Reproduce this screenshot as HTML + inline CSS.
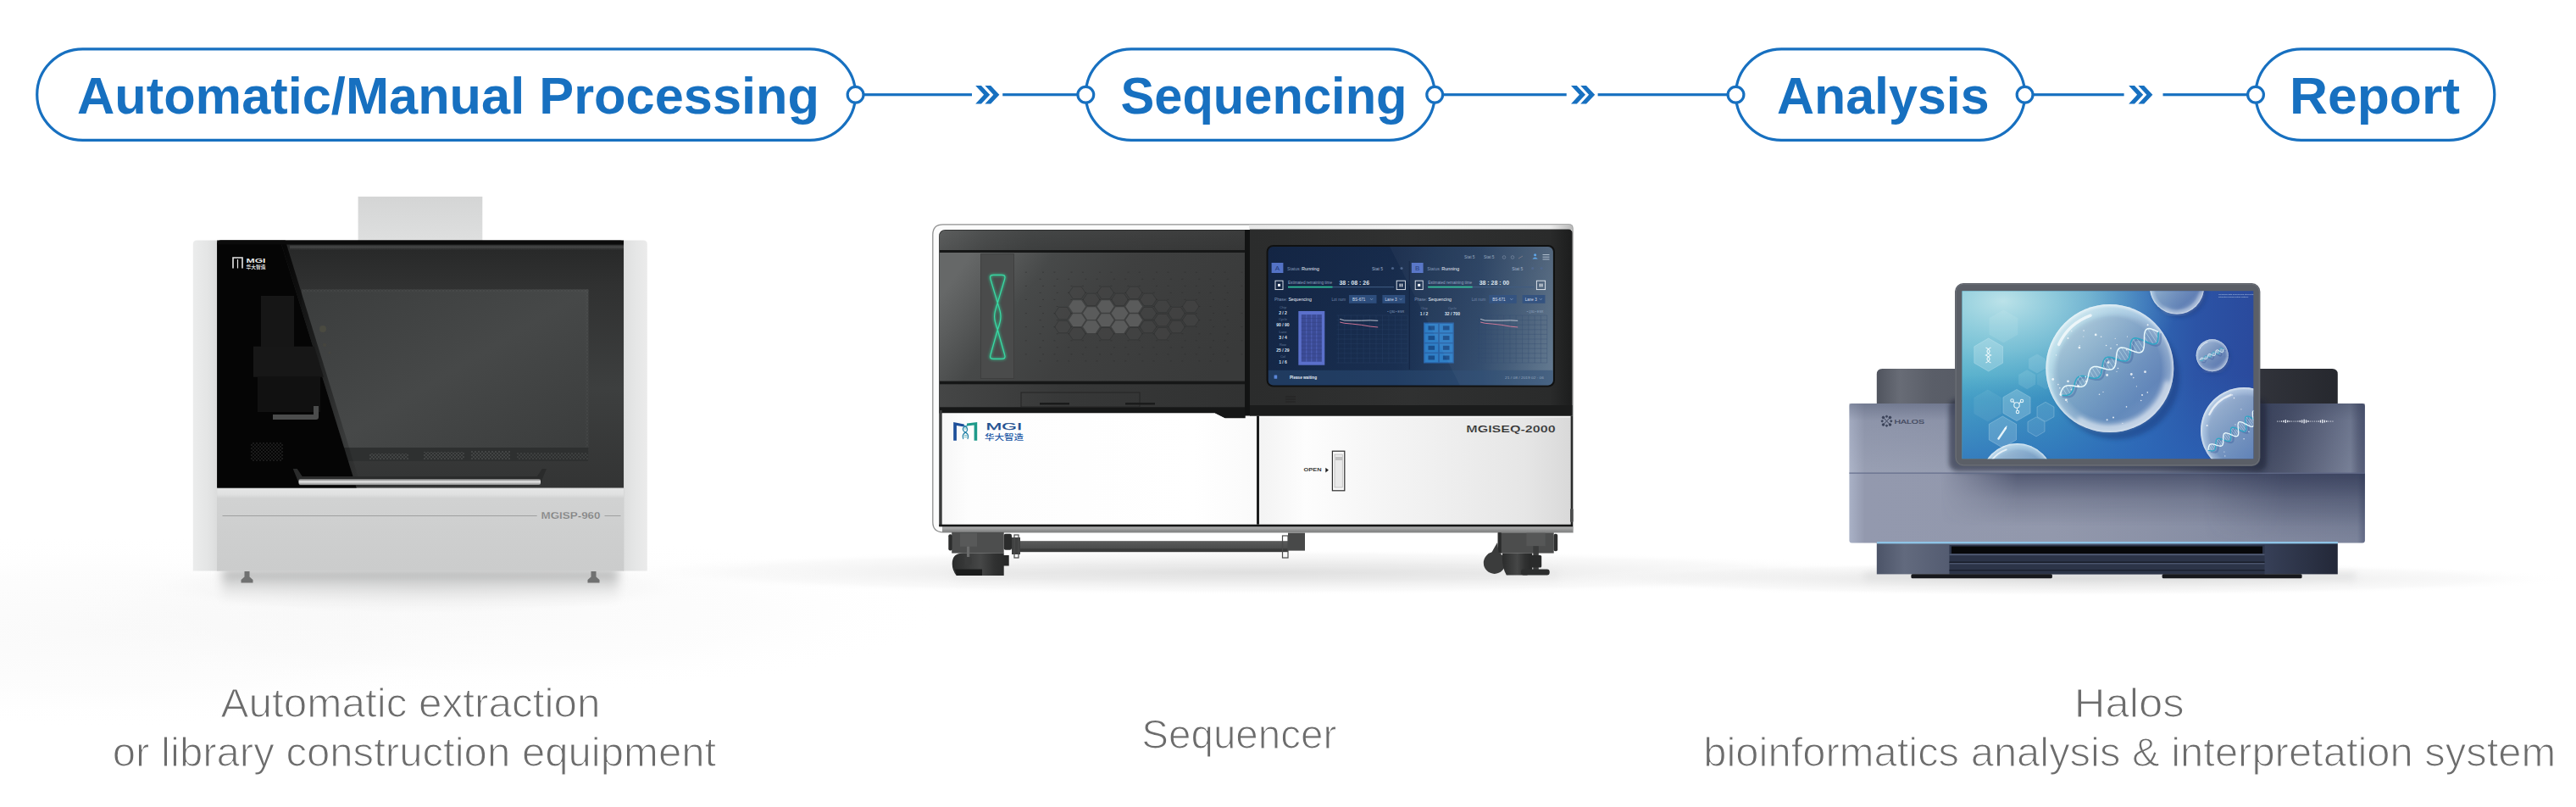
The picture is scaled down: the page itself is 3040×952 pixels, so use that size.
<!DOCTYPE html>
<html lang="en"><head><meta charset="utf-8"><title>Workflow</title>
<style>
html,body{margin:0;padding:0;background:#fff;}
body{width:3040px;height:952px;overflow:hidden;position:relative;font-family:"Liberation Sans","Noto Sans CJK SC",sans-serif;}
svg{position:absolute;left:0;top:0;display:block;}
svg text{font-family:"Liberation Sans","Noto Sans CJK SC",sans-serif;}
</style></head><body>
<svg width="3040" height="952" viewBox="0 0 3040 952">
<g id="floor">
<defs>
<radialGradient id="fl1" cx="0.5" cy="0.5" r="0.5"><stop offset="0" stop-color="#d4d4d4" stop-opacity="0.7"/><stop offset="0.45" stop-color="#dedede" stop-opacity="0.5"/><stop offset="0.8" stop-color="#ececec" stop-opacity="0.3"/><stop offset="1" stop-color="#ffffff" stop-opacity="0"/></radialGradient>
<radialGradient id="fl0" cx="0.5" cy="0.5" r="0.5"><stop offset="0" stop-color="#e6e6e6" stop-opacity="0.7"/><stop offset="0.6" stop-color="#efefef" stop-opacity="0.5"/><stop offset="1" stop-color="#ffffff" stop-opacity="0"/></radialGradient>
</defs>
<ellipse cx="120" cy="745" rx="520" ry="115" fill="url(#fl0)" opacity="0.32"/><ellipse cx="560" cy="725" rx="560" ry="95" fill="url(#fl0)" opacity="0.3"/>
<ellipse cx="496" cy="692" rx="330" ry="34" fill="url(#fl1)" opacity="0.6"/>
<ellipse cx="1480" cy="675" rx="760" ry="27" fill="url(#fl1)"/>
<ellipse cx="2440" cy="683" rx="600" ry="20" fill="url(#fl1)"/>
</g>

<g id="machine1">
<defs>
<linearGradient id="m1glass" x1="0" y1="0" x2="0" y2="1"><stop offset="0" stop-color="#262727"/><stop offset="0.18" stop-color="#303131"/><stop offset="0.6" stop-color="#3d3f3f"/><stop offset="1" stop-color="#333434"/></linearGradient>
<linearGradient id="m1inner" x1="0" y1="0" x2="1" y2="1"><stop offset="0" stop-color="#3b3d3d"/><stop offset="0.5" stop-color="#464848"/><stop offset="1" stop-color="#3a3c3c"/></linearGradient>
<linearGradient id="m1col" x1="0" y1="0" x2="1" y2="0"><stop offset="0" stop-color="#ebecec"/><stop offset="0.6" stop-color="#e4e5e5"/><stop offset="0.94" stop-color="#dcdddd"/><stop offset="1" stop-color="#c6c7c7"/></linearGradient>
<linearGradient id="m1colr" x1="0" y1="0" x2="1" y2="0"><stop offset="0" stop-color="#c9caca"/><stop offset="0.08" stop-color="#dedfdf"/><stop offset="0.5" stop-color="#e5e6e6"/><stop offset="1" stop-color="#ebebeb"/></linearGradient>
<linearGradient id="m1low" x1="0" y1="0" x2="0" y2="1"><stop offset="0" stop-color="#c4c5c5"/><stop offset="0.03" stop-color="#e4e5e5"/><stop offset="0.09" stop-color="#e0e1e1"/><stop offset="0.14" stop-color="#d1d2d2"/><stop offset="0.5" stop-color="#cecfcf"/><stop offset="1" stop-color="#cbcccc"/></linearGradient>
<linearGradient id="m1bar" x1="0" y1="0" x2="0" y2="1"><stop offset="0" stop-color="#6a6b6b"/><stop offset="0.45" stop-color="#e8e8e8"/><stop offset="1" stop-color="#8a8b8b"/></linearGradient>
<linearGradient id="m1sh" x1="0" y1="0" x2="0" y2="1"><stop offset="0" stop-color="#9c9d9d" stop-opacity="0.95"/><stop offset="0.35" stop-color="#c4c5c5" stop-opacity="0.7"/><stop offset="1" stop-color="#e8e8e8" stop-opacity="0"/></linearGradient>
<radialGradient id="m1floor" cx="0.5" cy="0.5" r="0.5"><stop offset="0" stop-color="#d9d9d9" stop-opacity="0.9"/><stop offset="0.6" stop-color="#ececec" stop-opacity="0.6"/><stop offset="1" stop-color="#ffffff" stop-opacity="0"/></radialGradient>
<pattern id="m1dots" width="4" height="4" patternUnits="userSpaceOnUse"><circle cx="1" cy="1" r="0.8" fill="#5a5c5c"/><circle cx="3" cy="3" r="0.8" fill="#5a5c5c"/></pattern>
<linearGradient id="m1edge" x1="0" y1="0" x2="1" y2="0" gradientUnits="objectBoundingBox"><stop offset="0" stop-color="#050505"/><stop offset="1" stop-color="#050505" stop-opacity="0"/></linearGradient>
<clipPath id="m1dark"><path d="M256.2 283.500h76l90 292h-166z"/></clipPath>
<linearGradient id="m1box" x1="0" y1="0" x2="0" y2="1"><stop offset="0" stop-color="#d4d5d5"/><stop offset="1" stop-color="#dedfdf"/></linearGradient>
<linearGradient id="m1hl" x1="0" y1="0" x2="0" y2="1"><stop offset="0" stop-color="#4a4b4b" stop-opacity="0"/><stop offset="0.4" stop-color="#4a4b4b" stop-opacity="0.9"/><stop offset="1" stop-color="#3a3b3b" stop-opacity="0"/></linearGradient>
<filter id="blur6" x="-20%" y="-50%" width="140%" height="200%"><feGaussianBlur stdDeviation="6"/></filter>
</defs>
<!-- floor shadow -->
<rect x="262" y="672" width="468" height="40" fill="url(#m1sh)" filter="url(#blur6)"/>
<!-- top box -->
<rect x="422.6" y="231.9" width="146.7" height="53" fill="url(#m1box)"/>
<!-- side columns -->
<path d="M227.8 288q0-4.5 4.5-4.5h25v390h-29.5z" fill="url(#m1col)"/>
<path d="M735 283.5h24.3q4.5 0 4.5 4.5v385.6h-28.8z" fill="url(#m1colr)"/>
<!-- lower panel -->
<rect x="256.2" y="574" width="479.8" height="99.6" fill="url(#m1low)"/>
<rect x="262.5" y="608" width="371.2" height="1" fill="#9fa0a0"/>
<rect x="713.5" y="608" width="19" height="1" fill="#9fa0a0"/>
<text x="638.5" y="612.3" textLength="70" lengthAdjust="spacingAndGlyphs" font-size="10" font-weight="bold" fill="#7e7f7f" stroke="#cfd0d0" stroke-width="0.25">MGISP-960</text>
<!-- glass -->
<path d="M256.2 288q0-4.5 4.5-4.5h470.8q4.5 0 4.5 4.5v287.4h-479.8z" fill="url(#m1glass)"/>
<rect x="356" y="341.4" width="338.4" height="202.6" fill="url(#m1inner)"/>
<rect x="356" y="341.4" width="338.4" height="3" fill="url(#m1dots)" opacity="0.5"/>
<rect x="691.4" y="341.4" width="3" height="202.6" fill="url(#m1dots)" opacity="0.5"/>
<rect x="356" y="528" width="338.4" height="16" fill="#2e3030"/>
<rect x="436" y="535" width="46" height="7" fill="url(#m1dots)"/>
<rect x="500" y="533" width="48" height="9" fill="url(#m1dots)"/>
<rect x="556" y="532" width="46" height="10" fill="url(#m1dots)"/>
<rect x="610" y="534" width="84" height="8" fill="url(#m1dots)" opacity="0.7"/>
<!-- black reflection left of diagonal -->
<path d="M256.2 288q0-4.5 4.5-4.5h70l90 292h-164.500z" fill="#050505"/><path d="M330.700 283.500h6l90 292h-6z" fill="url(#m1edge)"/>
<rect x="342" y="288.500" width="394" height="7" fill="url(#m1hl)"/><rect x="256.2" y="283.5" width="479.8" height="5" fill="#0b0b0b"/>
<!-- apparatus in the dark -->
<g clip-path="url(#m1dark)">
<rect x="308" y="349" width="39" height="60" fill="#161616"/>
<rect x="299" y="408.7" width="86" height="36" fill="#171717"/>
<rect x="304" y="444" width="74" height="42" fill="#111"/>
<path d="M322 489h48v-10h6v13q0 3-3 3h-51z" fill="#4b4c4c"/>
<rect x="296" y="522" width="38" height="22" fill="url(#m1dots)" opacity="0.55"/>
</g>
<circle cx="381" cy="388" r="4" fill="#4a4a40"/><circle cx="383" cy="407" r="2.2" fill="#45453f"/><circle cx="389" cy="416" r="1.5" fill="#45453f"/>
<!-- logo -->
<g fill="none" stroke="#e6e6e6" stroke-width="1.6"><path d="M275 316.5v-12.5h11v12.5"/><path d="M280.5 306v10.5" stroke-width="1.2"/></g>
<text x="290.5" y="309.5" textLength="23" lengthAdjust="spacingAndGlyphs" font-size="7.5" font-weight="bold" fill="#e9e9e9">MGI</text>
<text x="290.5" y="316.8" textLength="23" lengthAdjust="spacingAndGlyphs" font-size="6" font-weight="bold" fill="#dcdcdc">华大智造</text>
<!-- handle -->
<path d="M345.7 553l8 19.5h283.2l8-19.5h-5l-6 9h-277.2l-6-9z" fill="#2a2b2b"/>
<rect x="352.5" y="565" width="285.5" height="7" rx="2" fill="url(#m1bar)"/>
<!-- feet -->
<path d="M288.500 674h6v6.500l4 3.500v3.500h-14v-3.500l4-3.500z" fill="#707171"/>
<path d="M697.500 674h6v6.500l4 3.500v3.500h-14v-3.500l4-3.500z" fill="#707171"/>
</g>

<g id="machine2">
<defs>
<linearGradient id="m2door" x1="0" y1="0.35" x2="1" y2="0.65"><stop offset="0" stop-color="#666868"/><stop offset="0.1" stop-color="#5a5c5c"/><stop offset="0.25" stop-color="#474949"/><stop offset="0.5" stop-color="#3f4040"/><stop offset="1" stop-color="#393a3a"/></linearGradient>
<linearGradient id="m2strip" x1="0" y1="0" x2="1" y2="0"><stop offset="0" stop-color="#5c5e5e"/><stop offset="0.15" stop-color="#4d4f4f"/><stop offset="0.3" stop-color="#444646"/><stop offset="0.6" stop-color="#404141"/><stop offset="1" stop-color="#3b3c3c"/></linearGradient>
<linearGradient id="m2strip2" x1="0" y1="0" x2="1" y2="0"><stop offset="0" stop-color="#454646"/><stop offset="0.4" stop-color="#373838"/><stop offset="1" stop-color="#313232"/></linearGradient>
<linearGradient id="m2stripv" x1="0" y1="0" x2="0" y2="1"><stop offset="0" stop-color="#000" stop-opacity="0"/><stop offset="1" stop-color="#000" stop-opacity="0.1"/></linearGradient>
<linearGradient id="m2right" x1="0" y1="0" x2="1" y2="0"><stop offset="0" stop-color="#2b2c2c"/><stop offset="0.5" stop-color="#303131"/><stop offset="0.93" stop-color="#2a2b2b"/><stop offset="1" stop-color="#1c1d1d"/></linearGradient>
<linearGradient id="m2scr" x1="0" y1="0" x2="1" y2="0"><stop offset="0" stop-color="#152848"/><stop offset="0.45" stop-color="#1a3052"/><stop offset="0.75" stop-color="#2f4a6c"/><stop offset="1" stop-color="#61788f"/></linearGradient>
<linearGradient id="m2scrv" x1="0" y1="0" x2="0" y2="1"><stop offset="0" stop-color="#0e1c36" stop-opacity="0.25"/><stop offset="1" stop-color="#0e1c36" stop-opacity="0"/></linearGradient>
<linearGradient id="m2wl" x1="0" y1="0" x2="1" y2="0"><stop offset="0" stop-color="#f6f6f6"/><stop offset="0.08" stop-color="#fdfdfd"/><stop offset="0.8" stop-color="#ffffff"/><stop offset="1" stop-color="#fafafa"/></linearGradient>
<linearGradient id="m2wr" x1="0" y1="0" x2="1" y2="0"><stop offset="0" stop-color="#f3f3f3"/><stop offset="0.15" stop-color="#fdfdfd"/><stop offset="0.55" stop-color="#f0f0f0"/><stop offset="0.85" stop-color="#e6e6e6"/><stop offset="1" stop-color="#d9d9d9"/></linearGradient>
<linearGradient id="m2base" x1="0" y1="0" x2="0" y2="1"><stop offset="0" stop-color="#b5b6b6"/><stop offset="1" stop-color="#7d7e7e"/></linearGradient>
<linearGradient id="m2bar" x1="0" y1="0" x2="0" y2="1"><stop offset="0" stop-color="#5a5b5b"/><stop offset="0.7" stop-color="#4b4c4c"/><stop offset="0.72" stop-color="#3a3b3b"/><stop offset="1" stop-color="#3a3b3b"/></linearGradient>
<linearGradient id="m2whl" x1="0" y1="0" x2="1" y2="0"><stop offset="0" stop-color="#2b2c2c"/><stop offset="0.5" stop-color="#464747"/><stop offset="0.75" stop-color="#303131"/><stop offset="1" stop-color="#262727"/></linearGradient>
<linearGradient id="m2top" x1="0" y1="0" x2="1" y2="0"><stop offset="0" stop-color="#e8e8e8"/><stop offset="0.5" stop-color="#f4f4f4"/><stop offset="0.93" stop-color="#ededed"/><stop offset="1" stop-color="#b9b9b9"/></linearGradient>
<linearGradient id="m2fs" x1="0" y1="0" x2="0" y2="1"><stop offset="0" stop-color="#d5d5d5" stop-opacity="0.9"/><stop offset="1" stop-color="#f4f4f4" stop-opacity="0"/></linearGradient>
<filter id="m2glow" x="-60%" y="-20%" width="220%" height="140%"><feGaussianBlur stdDeviation="1.6"/></filter>
<filter id="m2blur" x="-10%" y="-60%" width="120%" height="220%"><feGaussianBlur stdDeviation="5"/></filter>
<clipPath id="m2scrclip"><rect x="1496.6" y="291" width="336.2" height="163.6" rx="6"/></clipPath>
</defs>
<rect x="1125" y="674" width="715" height="18" fill="url(#m2fs)" filter="url(#m2blur)" opacity="0.5"/>
<path d="M1112.8 264.8h738.7q4.5 0 4.5 4.5v358.5h-743.2q-12 0-12-12v-339q0-12 12-12z" fill="#fbfbfb" stroke="#8e8f8f" stroke-width="1.3"/>
<rect x="1112" y="620.9" width="744" height="7" fill="url(#m2base)"/>
<rect x="1474" y="265.500" width="381.500" height="5.500" fill="url(#m2top)"/>
<path d="M1108.2 279q0-8 8-8h353.5v222.500h-24l-12-6h-325.500z" fill="#161717"/>
<path d="M1108.8 279q0-7.5 7.5-7.5h352.7v23.5h-360.2z" fill="url(#m2strip)"/>
<rect x="1108.8" y="271.5" width="360.2" height="23.5" fill="url(#m2stripv)"/>
<rect x="1108.8" y="298" width="360.2" height="151.6" fill="url(#m2door)"/>
<rect x="1108.8" y="453.3" width="360.2" height="27" fill="url(#m2strip2)"/>
<rect x="1205" y="463" width="140" height="17" fill="none" stroke="#242525" stroke-width="1"/>
<rect x="1227" y="475" width="35" height="2.5" fill="#1a1b1b"/><rect x="1328" y="475" width="35" height="2.5" fill="#1a1b1b"/>
<rect x="1157.4" y="299.6" width="39.2" height="147" fill="#4a4b4b" stroke="#3c3d3d" stroke-width="0.8"/>
<path d="M1169 329.5L1177.3 357.4C1179.6 364 1181 369 1181 373.2C1181 377.5 1179.6 383 1177.3 389L1169 418.5C1167.6 422.6 1169.5 423.4 1172.5 423.4L1182 423.4C1185 423.4 1187 422.6 1185.6 418.5L1177.3 389C1175 383 1173.6 377.5 1173.6 373.2C1173.6 369 1175 364 1177.3 357.4L1185.6 329.5C1187 325 1185 324.4 1182 324.4L1172.5 324.4C1169.5 324.4 1167.6 325 1169 329.5Z" fill="none" stroke="#2fe0a0" stroke-width="3" opacity="0.55" filter="url(#m2glow)"/>
<path d="M1169 329.5L1177.3 357.4C1179.6 364 1181 369 1181 373.2C1181 377.5 1179.6 383 1177.3 389L1169 418.5C1167.6 422.6 1169.5 423.4 1172.5 423.4L1182 423.4C1185 423.4 1187 422.6 1185.6 418.5L1177.3 389C1175 383 1173.6 377.5 1173.6 373.2C1173.6 369 1175 364 1177.3 357.4L1185.6 329.5C1187 325 1185 324.4 1182 324.4L1172.5 324.4C1169.5 324.4 1167.6 325 1169 329.5Z" fill="none" stroke="#39dca6" stroke-width="1.2"/>
<polygon points="1244.7,369.6 1249.5,362.4 1259.4,362.4 1264.2,369.6 1259.4,376.8 1249.5,376.8" fill="#454646" fill-opacity="0.5" stroke="#2a2b2b" stroke-opacity="0.55" stroke-width="0.8"/>
<polygon points="1244.7,385.6 1249.5,378.4 1259.4,378.4 1264.2,385.6 1259.4,392.8 1249.5,392.8" fill="#454646" fill-opacity="0.5" stroke="#2a2b2b" stroke-opacity="0.55" stroke-width="0.8"/>
<polygon points="1261.4,345.4 1266.3,338.2 1276.1,338.2 1281.0,345.4 1276.1,352.6 1266.3,352.6" fill="#454646" fill-opacity="0.5" stroke="#2a2b2b" stroke-opacity="0.55" stroke-width="0.8"/>
<polygon points="1261.4,393.7 1266.3,386.5 1276.1,386.5 1281.0,393.7 1276.1,400.9 1266.3,400.9" fill="#454646" fill-opacity="0.5" stroke="#2a2b2b" stroke-opacity="0.55" stroke-width="0.8"/>
<polygon points="1278.2,353.4 1283.0,346.2 1292.9,346.2 1297.8,353.4 1292.9,360.6 1283.0,360.6" fill="#454646" fill-opacity="0.5" stroke="#2a2b2b" stroke-opacity="0.55" stroke-width="0.8"/>
<polygon points="1294.9,345.4 1299.8,338.2 1309.6,338.2 1314.5,345.4 1309.6,352.6 1299.8,352.6" fill="#454646" fill-opacity="0.5" stroke="#2a2b2b" stroke-opacity="0.55" stroke-width="0.8"/>
<polygon points="1294.9,393.7 1299.8,386.5 1309.6,386.5 1314.5,393.7 1309.6,400.9 1299.8,400.9" fill="#454646" fill-opacity="0.5" stroke="#2a2b2b" stroke-opacity="0.55" stroke-width="0.8"/>
<polygon points="1311.7,353.4 1316.5,346.2 1326.4,346.2 1331.2,353.4 1326.4,360.6 1316.5,360.6" fill="#454646" fill-opacity="0.5" stroke="#2a2b2b" stroke-opacity="0.55" stroke-width="0.8"/>
<polygon points="1328.4,345.4 1333.3,338.2 1343.1,338.2 1348.0,345.4 1343.1,352.6 1333.3,352.6" fill="#454646" fill-opacity="0.5" stroke="#2a2b2b" stroke-opacity="0.55" stroke-width="0.8"/>
<polygon points="1328.4,393.7 1333.3,386.5 1343.1,386.5 1348.0,393.7 1343.1,400.9 1333.3,400.9" fill="#454646" fill-opacity="0.5" stroke="#2a2b2b" stroke-opacity="0.55" stroke-width="0.8"/>
<polygon points="1345.2,353.4 1350.0,346.2 1359.9,346.2 1364.8,353.4 1359.9,360.6 1350.0,360.6" fill="#454646" fill-opacity="0.5" stroke="#2a2b2b" stroke-opacity="0.55" stroke-width="0.8"/>
<polygon points="1345.2,369.6 1350.0,362.4 1359.9,362.4 1364.8,369.6 1359.9,376.8 1350.0,376.8" fill="#454646" fill-opacity="0.5" stroke="#2a2b2b" stroke-opacity="0.55" stroke-width="0.8"/>
<polygon points="1345.2,385.6 1350.0,378.4 1359.9,378.4 1364.8,385.6 1359.9,392.8 1350.0,392.8" fill="#454646" fill-opacity="0.5" stroke="#2a2b2b" stroke-opacity="0.55" stroke-width="0.8"/>
<polygon points="1361.9,361.5 1366.8,354.3 1376.6,354.3 1381.5,361.5 1376.6,368.7 1366.8,368.7" fill="#454646" fill-opacity="0.5" stroke="#2a2b2b" stroke-opacity="0.55" stroke-width="0.8"/>
<polygon points="1361.9,377.6 1366.8,370.4 1376.6,370.4 1381.5,377.6 1376.6,384.8 1366.8,384.8" fill="#454646" fill-opacity="0.5" stroke="#2a2b2b" stroke-opacity="0.55" stroke-width="0.8"/>
<polygon points="1361.9,393.7 1366.8,386.5 1376.6,386.5 1381.5,393.7 1376.6,400.9 1366.8,400.9" fill="#454646" fill-opacity="0.5" stroke="#2a2b2b" stroke-opacity="0.55" stroke-width="0.8"/>
<polygon points="1378.7,369.6 1383.5,362.4 1393.4,362.4 1398.2,369.6 1393.4,376.8 1383.5,376.8" fill="#454646" fill-opacity="0.5" stroke="#2a2b2b" stroke-opacity="0.55" stroke-width="0.8"/>
<polygon points="1378.7,385.6 1383.5,378.4 1393.4,378.4 1398.2,385.6 1393.4,392.8 1383.5,392.8" fill="#454646" fill-opacity="0.5" stroke="#2a2b2b" stroke-opacity="0.55" stroke-width="0.8"/>
<polygon points="1395.4,361.5 1400.3,354.3 1410.1,354.3 1415.0,361.5 1410.1,368.7 1400.3,368.7" fill="#454646" fill-opacity="0.5" stroke="#2a2b2b" stroke-opacity="0.55" stroke-width="0.8"/>
<polygon points="1395.4,377.6 1400.3,370.4 1410.1,370.4 1415.0,377.6 1410.1,384.8 1400.3,384.8" fill="#454646" fill-opacity="0.5" stroke="#2a2b2b" stroke-opacity="0.55" stroke-width="0.8"/>
<polygon points="1261.3,361.5 1266.2,354.2 1276.2,354.2 1281.1,361.5 1276.2,368.8 1266.2,368.8" fill="#5a5b5b"/>
<polygon points="1261.3,377.6 1266.2,370.3 1276.2,370.3 1281.1,377.6 1276.2,384.9 1266.2,384.9" fill="#5a5b5b"/>
<polygon points="1278.0,369.6 1283.0,362.2 1292.9,362.2 1297.9,369.6 1292.9,376.9 1283.0,376.9" fill="#5a5b5b"/>
<polygon points="1278.0,385.6 1283.0,378.3 1292.9,378.3 1297.9,385.6 1292.9,392.9 1283.0,392.9" fill="#5a5b5b"/>
<polygon points="1294.8,361.5 1299.8,354.2 1309.7,354.2 1314.6,361.5 1309.7,368.8 1299.8,368.8" fill="#5a5b5b"/>
<polygon points="1294.8,377.6 1299.8,370.3 1309.7,370.3 1314.6,377.6 1309.7,384.9 1299.8,384.9" fill="#5a5b5b"/>
<polygon points="1311.5,369.6 1316.5,362.2 1326.4,362.2 1331.4,369.6 1326.4,376.9 1316.5,376.9" fill="#5a5b5b"/>
<polygon points="1311.5,385.6 1316.5,378.3 1326.4,378.3 1331.4,385.6 1326.4,392.9 1316.5,392.9" fill="#5a5b5b"/>
<polygon points="1328.3,361.5 1333.2,354.2 1343.2,354.2 1348.1,361.5 1343.2,368.8 1333.2,368.8" fill="#5a5b5b"/>
<polygon points="1328.3,377.6 1333.2,370.3 1343.2,370.3 1348.1,377.6 1343.2,384.9 1333.2,384.9" fill="#5a5b5b"/>
<path d="M1209.9 321.2h2M1230.0 321.2h2M1209.9 337.4h2M1230.0 337.4h2M1209.9 353.4h2M1230.0 353.4h2M1209.9 369.6h2M1230.0 369.6h2M1209.9 385.6h2M1230.0 385.6h2M1209.9 401.8h2M1230.0 401.8h2M1209.9 417.9h2M1230.0 417.9h2M1226.6 329.3h2M1246.8 329.3h2M1226.6 345.4h2M1246.8 345.4h2M1226.6 361.5h2M1246.8 361.5h2M1226.6 377.6h2M1246.8 377.6h2M1226.6 393.7h2M1246.8 393.7h2M1226.6 409.8h2M1246.8 409.8h2M1226.6 425.9h2M1246.8 425.9h2M1243.4 321.2h2M1263.5 321.2h2M1243.4 337.4h2M1263.5 337.4h2M1243.4 353.4h2M1263.5 353.4h2M1243.4 369.6h2M1263.5 369.6h2M1243.4 385.6h2M1263.5 385.6h2M1243.4 401.8h2M1263.5 401.8h2M1243.4 417.9h2M1263.5 417.9h2M1260.1 329.3h2M1280.3 329.3h2M1260.1 345.4h2M1280.3 345.4h2M1260.1 393.7h2M1280.3 393.7h2M1260.1 409.8h2M1280.3 409.8h2M1260.1 425.9h2M1280.3 425.9h2M1276.9 321.2h2M1297.0 321.2h2M1276.9 337.4h2M1297.0 337.4h2M1276.9 353.4h2M1297.0 353.4h2M1276.9 401.8h2M1297.0 401.8h2M1276.9 417.9h2M1297.0 417.9h2M1293.6 329.3h2M1313.8 329.3h2M1293.6 345.4h2M1313.8 345.4h2M1293.6 393.7h2M1313.8 393.7h2M1293.6 409.8h2M1313.8 409.8h2M1293.6 425.9h2M1313.8 425.9h2M1310.4 321.2h2M1330.5 321.2h2M1310.4 337.4h2M1330.5 337.4h2M1310.4 353.4h2M1330.5 353.4h2M1310.4 401.8h2M1330.5 401.8h2M1310.4 417.9h2M1330.5 417.9h2M1327.1 329.3h2M1347.3 329.3h2M1327.1 345.4h2M1347.3 345.4h2M1327.1 393.7h2M1347.3 393.7h2M1327.1 409.8h2M1347.3 409.8h2M1327.1 425.9h2M1347.3 425.9h2M1343.9 321.2h2M1364.0 321.2h2M1343.9 337.4h2M1364.0 337.4h2M1343.9 353.4h2M1364.0 353.4h2M1343.9 369.6h2M1364.0 369.6h2M1343.9 385.6h2M1364.0 385.6h2M1343.9 401.8h2M1364.0 401.8h2M1343.9 417.9h2M1364.0 417.9h2M1360.6 329.3h2M1380.8 329.3h2M1360.6 345.4h2M1380.8 345.4h2M1360.6 361.5h2M1380.8 361.5h2M1360.6 377.6h2M1380.8 377.6h2M1360.6 393.7h2M1380.8 393.7h2M1360.6 409.8h2M1380.8 409.8h2M1360.6 425.9h2M1380.8 425.9h2M1377.4 321.2h2M1397.5 321.2h2M1377.4 337.4h2M1397.5 337.4h2M1377.4 353.4h2M1397.5 353.4h2M1377.4 369.6h2M1397.5 369.6h2M1377.4 385.6h2M1397.5 385.6h2M1377.4 401.8h2M1397.5 401.8h2M1377.4 417.9h2M1397.5 417.9h2M1394.1 329.3h2M1414.3 329.3h2M1394.1 345.4h2M1414.3 345.4h2M1394.1 361.5h2M1414.3 361.5h2M1394.1 377.6h2M1414.3 377.6h2M1394.1 393.7h2M1414.3 393.7h2M1394.1 409.8h2M1414.3 409.8h2M1394.1 425.9h2M1414.3 425.9h2M1410.9 321.2h2M1431.0 321.2h2M1410.9 337.4h2M1431.0 337.4h2M1410.9 353.4h2M1431.0 353.4h2M1410.9 369.6h2M1431.0 369.6h2M1410.9 385.6h2M1431.0 385.6h2M1410.9 401.8h2M1431.0 401.8h2M1410.9 417.9h2M1431.0 417.9h2M1427.6 329.3h2M1447.8 329.3h2M1427.6 345.4h2M1447.8 345.4h2M1427.6 361.5h2M1447.8 361.5h2M1427.6 377.6h2M1447.8 377.6h2M1427.6 393.7h2M1447.8 393.7h2M1427.6 409.8h2M1447.8 409.8h2M1427.6 425.9h2M1447.8 425.9h2M1444.4 321.2h2M1464.5 321.2h2M1444.4 337.4h2M1464.5 337.4h2M1444.4 353.4h2M1464.5 353.4h2M1444.4 369.6h2M1464.5 369.6h2M1444.4 385.6h2M1464.5 385.6h2M1444.4 401.8h2M1464.5 401.8h2M1444.4 417.9h2M1464.5 417.9h2" stroke="#2c2d2d" stroke-width="0.9" opacity="0.6" fill="none"/>
<rect x="1469" y="271" width="6.5" height="219.5" fill="#121313"/>
<path d="M1475 270.5h376q4.5 0 4.5 4.5v215.5h-380.5z" fill="url(#m2right)"/>
<rect x="1475" y="478" width="380.5" height="12.5" fill="#1b1c1c"/>
<path d="M1517 468h12M1517 471h12M1517 474h12" stroke="#222323" stroke-width="1"/>
<rect x="1494.6" y="289" width="340.4" height="167.6" rx="8" fill="#101111"/>
<rect x="1496.6" y="291" width="336.2" height="163.6" rx="6" fill="url(#m2scr)"/>
<g clip-path="url(#m2scrclip)">
<rect x="1496.6" y="291" width="336.2" height="163.6" fill="url(#m2scrv)"/>
<rect x="1496.6" y="436.8" width="336.2" height="18" fill="#2a4a72" opacity="0.55"/>
<rect x="1662.8" y="308" width="1" height="128" fill="#0e1d38" opacity="0.6"/>
<rect x="1500.6" y="310" width="13.8" height="12" fill="#5473c6"/><text x="1507.5" y="319.3" text-anchor="middle" font-size="8" fill="#223a78">A</text><text x="1519" y="318.6" font-size="5.2" fill="#7f93b4">Status:</text><text x="1536" y="318.6" font-size="5.6" fill="#e6ecf5">Running</text><text x="1619" y="318.6" font-size="5" fill="#9fb0c8">Stat 5</text><circle cx="1643.5" cy="316.5" r="1.6" fill="#4a6288"/><circle cx="1654" cy="316.5" r="1.6" fill="#4a6288"/><rect x="1505" y="331.2" width="9" height="10.4" fill="none" stroke="#e8edf4" stroke-width="0.9"/><rect x="1508" y="334.9" width="3" height="3" fill="#fff"/><text x="1520" y="335" textLength="52" lengthAdjust="spacingAndGlyphs" font-size="4.6" fill="#8ea3c0">Estimated remaining time</text><text x="1580.5" y="336.4" textLength="35.5" lengthAdjust="spacingAndGlyphs" font-size="7.6" font-weight="bold" fill="#dfe6f0">38 : 08 : 26</text><rect x="1520" y="338" width="125" height="1.2" fill="#3a557c"/><rect x="1520" y="337.8" width="52.5" height="1.6" fill="#2ec79b"/><rect x="1648.2" y="331.2" width="10.2" height="10.4" fill="none" stroke="#e8edf4" stroke-width="0.9"/><rect x="1651.6" y="334.6" width="1.2" height="3.8" fill="#fff"/><rect x="1654" y="334.6" width="1.2" height="3.8" fill="#fff"/><text x="1504" y="354.8" font-size="4.8" fill="#7f93b4">Phase:</text><text x="1520.4" y="354.8" font-size="5.2" fill="#e6ecf5">Sequencing</text><text x="1571.5" y="354.8" font-size="4.6" fill="#6f84a6">Lot num</text><rect x="1592" y="348" width="32.5" height="9.8" fill="#2d4d7c"/><text x="1596" y="354.8" font-size="4.6" fill="#d4deec">BS-671</text><path d="M1617 352l1.6 1.8l1.6-1.8" stroke="#8fa6c8" stroke-width="0.6" fill="none"/><rect x="1631.4" y="348" width="26.8" height="9.8" fill="#2d4d7c"/><text x="1634.5" y="354.8" font-size="4.6" fill="#d4deec">Lane 3</text><path d="M1651.5 352l1.6 1.8l1.6-1.8" stroke="#8fa6c8" stroke-width="0.6" fill="none"/><path d="M1577.3 372.0H1661.3M1577.3 377.6H1661.3M1577.3 383.2H1661.3M1577.3 388.8H1661.3M1577.3 394.4H1661.3M1577.3 400.0H1661.3M1577.3 405.6H1661.3M1577.3 411.2H1661.3M1577.3 416.8H1661.3M1577.3 422.4H1661.3M1577.3 428.0H1661.3M1579.3 372V428M1586.8 372V428M1594.2 372V428M1601.7 372V428M1609.1 372V428M1616.6 372V428M1624.0 372V428M1631.5 372V428M1638.9 372V428M1646.4 372V428M1653.8 372V428M1661.3 372V428" stroke="#2b446a" stroke-width="0.4" fill="none" opacity="0.8"/><path d="M1581.2 376.4l5.4 1.6l9.0 0.2l10.8 0l10.8 -0.3l9.0 0.4" stroke="#dfe3ea" stroke-width="0.8" fill="none"/><path d="M1581.2 380l5.4 1.3l9.0 0.8l10.8 1.2l10.8 1.8l9.0 0.9" stroke="#e07a9a" stroke-width="0.9" fill="none"/><text x="1637.3" y="368.6" font-size="3.6" fill="#8ea3c0">• Q30  • ESR</text>
<rect x="1665.8" y="310" width="13.8" height="12" fill="#5473c6"/><text x="1672.7" y="319.3" text-anchor="middle" font-size="8" fill="#223a78">B</text><text x="1684.2" y="318.6" font-size="5.2" fill="#7f93b4">Status:</text><text x="1701.2" y="318.6" font-size="5.6" fill="#e6ecf5">Running</text><text x="1784.2" y="318.6" font-size="5" fill="#9fb0c8">Stat 5</text><circle cx="1808.7" cy="316.5" r="1.6" fill="#4a6288"/><circle cx="1819.2" cy="316.5" r="1.6" fill="#4a6288"/><rect x="1670.2" y="331.2" width="9" height="10.4" fill="none" stroke="#e8edf4" stroke-width="0.9"/><rect x="1673.2" y="334.9" width="3" height="3" fill="#fff"/><text x="1685.2" y="335" textLength="52" lengthAdjust="spacingAndGlyphs" font-size="4.6" fill="#8ea3c0">Estimated remaining time</text><text x="1745.7" y="336.4" textLength="35.5" lengthAdjust="spacingAndGlyphs" font-size="7.6" font-weight="bold" fill="#dfe6f0">38 : 28 : 00</text><rect x="1685.2" y="338" width="125" height="1.2" fill="#3a557c"/><rect x="1685.2" y="337.8" width="52.5" height="1.6" fill="#2ec79b"/><rect x="1813.4" y="331.2" width="10.2" height="10.4" fill="none" stroke="#e8edf4" stroke-width="0.9"/><rect x="1816.8" y="334.6" width="1.2" height="3.8" fill="#fff"/><rect x="1819.2" y="334.6" width="1.2" height="3.8" fill="#fff"/><text x="1669.2" y="354.8" font-size="4.8" fill="#7f93b4">Phase:</text><text x="1685.6000000000001" y="354.8" font-size="5.2" fill="#e6ecf5">Sequencing</text><text x="1736.7" y="354.8" font-size="4.6" fill="#6f84a6">Lot num</text><rect x="1757.2" y="348" width="32.5" height="9.8" fill="#2d4d7c"/><text x="1761.2" y="354.8" font-size="4.6" fill="#d4deec">BS-671</text><path d="M1782.2 352l1.6 1.8l1.6-1.8" stroke="#8fa6c8" stroke-width="0.6" fill="none"/><rect x="1796.6000000000001" y="348" width="26.8" height="9.8" fill="#2d4d7c"/><text x="1799.7" y="354.8" font-size="4.6" fill="#d4deec">Lane 3</text><path d="M1816.7 352l1.6 1.8l1.6-1.8" stroke="#8fa6c8" stroke-width="0.6" fill="none"/><path d="M1743.4 372.0H1825.7M1743.4 377.6H1825.7M1743.4 383.2H1825.7M1743.4 388.8H1825.7M1743.4 394.4H1825.7M1743.4 400.0H1825.7M1743.4 405.6H1825.7M1743.4 411.2H1825.7M1743.4 416.8H1825.7M1743.4 422.4H1825.7M1743.4 428.0H1825.7M1745.4 372V428M1752.7 372V428M1760.0 372V428M1767.3 372V428M1774.6 372V428M1781.9 372V428M1789.2 372V428M1796.5 372V428M1803.8 372V428M1811.1 372V428M1818.4 372V428M1825.7 372V428" stroke="#2b446a" stroke-width="0.4" fill="none" opacity="0.8"/><path d="M1747.1 376.4l5.3 1.6l8.8 0.2l10.6 0l10.6 -0.3l8.8 0.4" stroke="#dfe3ea" stroke-width="0.8" fill="none"/><path d="M1747.1 380l5.3 1.3l8.8 0.8l10.6 1.2l10.6 1.8l8.8 0.9" stroke="#e07a9a" stroke-width="0.9" fill="none"/><text x="1801.7" y="368.6" font-size="3.6" fill="#8ea3c0">• Q30  • ESR</text>
<text x="1514" y="363.8" text-anchor="middle" font-size="4" fill="#5f7496">Chip</text><text x="1514" y="370.8" text-anchor="middle" font-size="5" font-weight="bold" fill="#d9e1ee">2 / 2</text>
<text x="1514" y="378.4" text-anchor="middle" font-size="4" fill="#5f7496">Cycle</text><text x="1514" y="385.4" text-anchor="middle" font-size="5" font-weight="bold" fill="#d9e1ee">90 / 90</text>
<text x="1514" y="393.0" text-anchor="middle" font-size="4" fill="#5f7496">Lane</text><text x="1514" y="400.0" text-anchor="middle" font-size="5" font-weight="bold" fill="#d9e1ee">3 / 4</text>
<text x="1514" y="407.6" text-anchor="middle" font-size="4" fill="#5f7496">Row</text><text x="1514" y="414.6" text-anchor="middle" font-size="5" font-weight="bold" fill="#d9e1ee">25 / 29</text>
<text x="1514" y="422.2" text-anchor="middle" font-size="4" fill="#5f7496">Col</text><text x="1514" y="429.2" text-anchor="middle" font-size="5" font-weight="bold" fill="#d9e1ee">1 / 6</text>
<rect x="1532.3" y="367" width="31" height="63.7" fill="#5b70cb"/><rect x="1535.8" y="371" width="24" height="55.7" fill="#3c4c97"/>
<path d="M1541.8 371v55.7M1547.8 371v55.7M1553.8 371v55.7" stroke="#5b70cb" stroke-width="0.8" opacity="0.8"/>
<path d="M1535.8 375.6h24M1535.8 380.3h24M1535.8 384.9h24M1535.8 389.6h24M1535.8 394.2h24M1535.8 398.8h24M1535.8 403.5h24M1535.8 408.1h24M1535.8 412.8h24M1535.8 417.4h24M1535.8 422.0h24" stroke="#33417f" stroke-width="0.5"/>
<text x="1680.5" y="364.5" text-anchor="middle" font-size="4" fill="#5f7496">Chip</text><text x="1680.5" y="372" text-anchor="middle" font-size="5" font-weight="bold" fill="#d9e1ee">1 / 2</text>
<text x="1714" y="364.5" text-anchor="middle" font-size="4" fill="#5f7496">Cycle</text><text x="1714" y="372" text-anchor="middle" font-size="5" font-weight="bold" fill="#d9e1ee">32 / 700</text>
<rect x="1680" y="380.5" width="35.8" height="48" fill="#2a64a8"/>
<rect x="1681.5" y="382.0" width="15.6" height="10.2" fill="#2f7fc6"/><rect x="1685.5" y="384.4" width="7.6" height="5" fill="#1b4f8c"/>
<rect x="1698.9" y="382.0" width="15.6" height="10.2" fill="#2f7fc6"/><rect x="1702.9" y="384.4" width="7.6" height="5" fill="#1b4f8c"/>
<rect x="1681.5" y="393.7" width="15.6" height="10.2" fill="#2f7fc6"/><rect x="1685.5" y="396.1" width="7.6" height="5" fill="#1b4f8c"/>
<rect x="1698.9" y="393.7" width="15.6" height="10.2" fill="#2f7fc6"/><rect x="1702.9" y="396.1" width="7.6" height="5" fill="#1b4f8c"/>
<rect x="1681.5" y="405.4" width="15.6" height="10.2" fill="#2f7fc6"/><rect x="1685.5" y="407.8" width="7.6" height="5" fill="#1b4f8c"/>
<rect x="1698.9" y="405.4" width="15.6" height="10.2" fill="#2f7fc6"/><rect x="1702.9" y="407.8" width="7.6" height="5" fill="#1b4f8c"/>
<rect x="1681.5" y="417.1" width="15.6" height="10.2" fill="#2f7fc6"/><rect x="1685.5" y="419.5" width="7.6" height="5" fill="#1b4f8c"/>
<rect x="1698.9" y="417.1" width="15.6" height="10.2" fill="#2f7fc6"/><rect x="1702.9" y="419.5" width="7.6" height="5" fill="#1b4f8c"/>
<text x="1728" y="305.2" font-size="4.8" fill="#93a4bc">Stat 5</text><text x="1751" y="305.2" font-size="4.8" fill="#93a4bc">Stat 5</text>
<circle cx="1775" cy="303.5" r="1.8" fill="none" stroke="#7f90a8" stroke-width="0.6"/><circle cx="1785" cy="303.5" r="1.8" fill="none" stroke="#7f90a8" stroke-width="0.6"/><path d="M1792 305l5-3" stroke="#8a7f8a" stroke-width="0.7"/>
<circle cx="1811.6" cy="300.8" r="1.5" fill="#5aa4ea"/><path d="M1808.4 305.6q3.2-4 6.4 0z" fill="#5aa4ea"/>
<path d="M1820.5 300.5h8M1820.5 303.2h8M1820.5 305.9h8" stroke="#b9c6d6" stroke-width="0.9"/>
<rect x="1503.6" y="442.4" width="3.6" height="4.4" rx="0.6" fill="#5a86d8"/>
<text x="1522" y="447" textLength="32" lengthAdjust="spacingAndGlyphs" font-size="5" font-weight="bold" fill="#e2e9f3">Please waiting</text>
<text x="1776" y="447" textLength="46" lengthAdjust="spacingAndGlyphs" font-size="4.4" fill="#8fa2ba">21 / 08 / 2019   02 : 06</text>
<path d="M1640 291h193v164h-110z" fill="#ffffff" opacity="0.035"/>
</g>
<path d="M1111.7 487.500h322l12 6h37.300v125.200h-371.300z" fill="url(#m2wl)"/>
<rect x="1483" y="490.5" width="3" height="128.2" fill="#1d1e1e"/>
<rect x="1486" y="492.3" width="367.6" height="126.4" fill="url(#m2wr)"/>
<rect x="1853.6" y="490.5" width="2.4" height="130.4" fill="#2a2b2b"/>
<rect x="1108.2" y="484" width="3.5" height="136.9" fill="#3a3b3b"/>
<rect x="1108.2" y="618.7" width="747.8" height="2.6" fill="#141515"/>
<path d="M1125.2 519.700V498L1137.800 500.400V503.600L1128.900 501.900V519.700Z" fill="#1d4f9a"/>
<path d="M1153.200 519.700V498L1141 499.400V502.600L1149.600 501.600V519.700Z" fill="#1f9a8a"/>
<path d="M1137.200 501.800c5.500 2.200 5.500 6.200 2.200 8.200c-3.300 2-3.800 5-2.400 8M1141.800 501.800c-7.500 2.200-6.500 6.200-2.400 8.200c3.300 2 3.800 5 2.400 8" stroke="#1f7fa6" stroke-width="1.100" fill="none"/>
<path d="M1137.400 504h4.200M1137 506h5M1137.800 513.500h3.400M1137.400 515.500h4.200" stroke="#1f8f9a" stroke-width="0.600"/>
<text x="1163.600" y="507.300" textLength="42.600" lengthAdjust="spacingAndGlyphs" font-size="10.300" fill="#1d4f8f" stroke="#1d4f8f" stroke-width="0.250">MGI</text>
<text x="1162" y="518.600" textLength="46" lengthAdjust="spacingAndGlyphs" font-size="9.200" font-weight="500" fill="#2258a6">华大智造</text>
<text x="1730.3" y="510.4" textLength="105.3" lengthAdjust="spacingAndGlyphs" font-size="11.800" font-weight="bold" fill="#2c2c2c" stroke="#ececec" stroke-width="0.200">MGISEQ-2000</text>
<rect x="1572.4" y="532.2" width="14.4" height="46.6" fill="#f7f7f7" stroke="#2e2e2e" stroke-width="1.2"/>
<rect x="1575" y="536" width="9.2" height="39" fill="#e9e9e9" stroke="#9a9a9a" stroke-width="0.5"/>
<path d="M1577 539v4M1579 539v4M1581 539v4M1583 539v4" stroke="#6a6a6a" stroke-width="0.6"/>
<text x="1538.5" y="556.3" textLength="21" lengthAdjust="spacingAndGlyphs" font-size="4.6" font-weight="bold" fill="#3a3a3a">OPEN</text>
<path d="M1564.3 551.8l3.600 2.800l-3.600 2.800z" fill="#1c1c1c"/>
<rect x="1853" y="600" width="3.6" height="16" rx="1.2" fill="#4a4b4b"/>
<rect x="1123.2" y="627.8" width="61.5" height="24.8" fill="#4d4e4e"/><rect x="1119.3" y="630.3" width="4.5" height="19.3" rx="2" fill="#2c2d2d"/><rect x="1184.7" y="629.8" width="9.3" height="19" rx="2" fill="#2b2c2c"/><rect x="1133" y="628.8" width="20" height="16" fill="#585959"/><path d="M1123.7 665q0-12.400 13-12.400h48v2.400h6v12.500h-6v11.400h-56q-5-6-5-13.900z" fill="url(#m2whl)"/><rect x="1141" y="644.7" width="3.2" height="21" fill="#6a6b6b"/><rect x="1138.5" y="657" width="8" height="9" rx="1" fill="#3a3b3b"/><path d="M1127 671.500h32v7.400h-30z" fill="#1b1c1c"/>
<rect x="1767.7" y="628.3" width="66" height="24.300" fill="#4c4d4d"/><rect x="1767.7" y="628.3" width="4" height="24.300" fill="#2b2c2c"/><rect x="1833.6" y="629.8" width="4.6" height="20.400" rx="2" fill="#2f3030"/><rect x="1801.4" y="628.8" width="22.3" height="15.400" fill="#565757"/><path d="M1767 640l-8 14h10z" fill="#3a3b3b"/><circle cx="1763.7" cy="664" r="12.900" fill="#3b3c3c"/><path d="M1773.1 652.600h35.200v19l-6 6.800h-24.500q-6-10-4.700-25.800z" fill="url(#m2whl)"/><rect x="1809.300" y="644.200" width="6.500" height="28" fill="#3a3b3b"/><rect x="1805.400" y="655" width="13.800" height="14.500" rx="1.500" fill="#2a2b2b"/><rect x="1795" y="671.500" width="33.700" height="6.900" rx="3" fill="#2d2e2e"/>
<rect x="1204" y="638.200" width="316" height="13" fill="url(#m2bar)"/>
<rect x="1194" y="634" width="10" height="20" fill="#3f4040"/><rect x="1197" y="631" width="5" height="27" fill="none" stroke="#4a4b4b" stroke-width="1.2"/>
<rect x="1520" y="628.600" width="20" height="21" fill="#484949"/><rect x="1513.500" y="632" width="6.500" height="26" fill="none" stroke="#4a4b4b" stroke-width="1.200"/>
</g>
<g id="machine3">
<defs>
<linearGradient id="m3body" x1="0" y1="0" x2="1" y2="0"><stop offset="0" stop-color="#a8b0c5"/><stop offset="0.03" stop-color="#9299ae"/><stop offset="0.3" stop-color="#8f96ab"/><stop offset="0.6" stop-color="#6f778f"/><stop offset="0.8" stop-color="#39415a"/><stop offset="0.85" stop-color="#454d66"/><stop offset="0.92" stop-color="#5d657e"/><stop offset="0.972" stop-color="#6f7890"/><stop offset="0.987" stop-color="#565e78"/><stop offset="1" stop-color="#4a5270"/></linearGradient>
<linearGradient id="m3body2" x1="0" y1="0" x2="1" y2="0"><stop offset="0" stop-color="#a9b1c6"/><stop offset="0.03" stop-color="#9399ae"/><stop offset="0.4" stop-color="#9298ac"/><stop offset="0.7" stop-color="#878ea4"/><stop offset="0.9" stop-color="#80879e"/><stop offset="0.985" stop-color="#7d859c"/><stop offset="1" stop-color="#626a86"/></linearGradient>
<linearGradient id="m3shv" x1="0" y1="0" x2="0" y2="1"><stop offset="0" stop-color="#2b3350" stop-opacity="0.62"/><stop offset="0.5" stop-color="#2b3350" stop-opacity="0.22"/><stop offset="1" stop-color="#2b3350" stop-opacity="0"/></linearGradient>
<linearGradient id="m3shv2" x1="0" y1="0" x2="0" y2="1"><stop offset="0" stop-color="#2b3350" stop-opacity="0.4"/><stop offset="1" stop-color="#2b3350" stop-opacity="0"/></linearGradient>
<linearGradient id="m3mh" x1="0" y1="0" x2="1" y2="0"><stop offset="0" stop-color="#fff" stop-opacity="0"/><stop offset="0.18" stop-color="#fff" stop-opacity="1"/><stop offset="1" stop-color="#fff" stop-opacity="1"/></linearGradient>
<linearGradient id="m3mh2" x1="0" y1="0" x2="1" y2="0"><stop offset="0" stop-color="#fff" stop-opacity="0"/><stop offset="0.5" stop-color="#fff" stop-opacity="1"/><stop offset="1" stop-color="#fff" stop-opacity="1"/></linearGradient>
<mask id="m3mask1" maskUnits="userSpaceOnUse" x="2290" y="550" width="510" height="100"><rect x="2290" y="550" width="501" height="100" fill="url(#m3mh)"/></mask>
<mask id="m3mask2" maskUnits="userSpaceOnUse" x="2600" y="550" width="200" height="100"><rect x="2600" y="550" width="191" height="100" fill="url(#m3mh2)"/></mask>
<linearGradient id="m3bodyv" x1="0" y1="0" x2="0" y2="1"><stop offset="0" stop-color="#39425c" stop-opacity="0.35"/><stop offset="0.25" stop-color="#39425c" stop-opacity="0.05"/><stop offset="1" stop-color="#ffffff" stop-opacity="0.06"/></linearGradient>
<linearGradient id="m3back" x1="0" y1="0" x2="1" y2="0"><stop offset="0" stop-color="#50545e"/><stop offset="0.05" stop-color="#686c76"/><stop offset="0.12" stop-color="#5a5e68"/><stop offset="0.5" stop-color="#4c505a"/><stop offset="0.8" stop-color="#33353d"/><stop offset="1" stop-color="#26282e"/></linearGradient>
<linearGradient id="m3base" x1="0" y1="0" x2="1" y2="0"><stop offset="0" stop-color="#4c5468"/><stop offset="0.06" stop-color="#626a7e"/><stop offset="0.15" stop-color="#555d72"/><stop offset="0.8" stop-color="#3c4660"/><stop offset="1" stop-color="#232838"/></linearGradient>
<linearGradient id="m3scr" x1="0" y1="0" x2="1" y2="0"><stop offset="0" stop-color="#4aaac8"/><stop offset="0.32" stop-color="#3d98c2"/><stop offset="0.62" stop-color="#306ab5"/><stop offset="0.8" stop-color="#2c54a6"/><stop offset="1" stop-color="#2a4a9d"/></linearGradient>
<radialGradient id="m3scrhl" cx="0.14" cy="0.06" r="0.6"><stop offset="0" stop-color="#c6e8ec" stop-opacity="0.92"/><stop offset="0.5" stop-color="#a2d8e2" stop-opacity="0.55"/><stop offset="1" stop-color="#7cc4da" stop-opacity="0"/></radialGradient>
<linearGradient id="m3scrb" x1="0" y1="0" x2="0" y2="1"><stop offset="0.5" stop-color="#2b66b8" stop-opacity="0"/><stop offset="1" stop-color="#2b66b8" stop-opacity="0.65"/></linearGradient>
<linearGradient id="m3bub" x1="0.15" y1="0.1" x2="0.85" y2="0.9"><stop offset="0" stop-color="#e2f1f5" stop-opacity="0.66"/><stop offset="0.45" stop-color="#d0e5ef" stop-opacity="0.5"/><stop offset="0.8" stop-color="#c0d6ec" stop-opacity="0.4"/><stop offset="1" stop-color="#cde0f2" stop-opacity="0.48"/></linearGradient>
<radialGradient id="m3rim" cx="0.5" cy="0.5" r="0.5"><stop offset="0.8" stop-color="#ffffff" stop-opacity="0"/><stop offset="0.94" stop-color="#e9f6fb" stop-opacity="0.28"/><stop offset="1" stop-color="#ffffff" stop-opacity="0.7"/></radialGradient>
<linearGradient id="m3fs" x1="0" y1="0" x2="0" y2="1"><stop offset="0" stop-color="#bfc0c2" stop-opacity="0.9"/><stop offset="1" stop-color="#f2f2f2" stop-opacity="0"/></linearGradient>
<filter id="m3blur" x="-10%" y="-80%" width="120%" height="260%"><feGaussianBlur stdDeviation="4"/></filter>
<filter id="m3b2" x="-20%" y="-20%" width="140%" height="140%"><feGaussianBlur stdDeviation="2.5"/></filter>
<clipPath id="m3scrclip"><rect x="2315.4" y="343.2" width="343.9" height="198"/></clipPath>
</defs>
<rect x="2200" y="676" width="580" height="16" fill="url(#m3fs)" filter="url(#m3blur)" opacity="0.6"/>
<path d="M2214.8 441.500q0-6.500 6.500-6.500h531q6.500 0 6.500 6.500v36h-544z" fill="url(#m3back)"/>
<rect x="2214.8" y="640" width="544" height="37.400" fill="url(#m3base)"/>
<rect x="2300.5" y="643" width="372" height="34.400" fill="#2c3448"/>
<rect x="2303" y="644.500" width="367" height="8.500" fill="#07080a"/>
<rect x="2300.5" y="653.500" width="372" height="1.600" fill="#525c74"/><rect x="2300.5" y="662.500" width="372" height="1.500" fill="#171c28"/><rect x="2300.5" y="664" width="372" height="1.500" fill="#4a546c"/><rect x="2300.5" y="672" width="372" height="1.400" fill="#1a1f2c"/>
<rect x="2255.4" y="677.200" width="166.500" height="5" rx="1.500" fill="#17181c"/><rect x="2551.6" y="677.200" width="165" height="5" rx="1.500" fill="#17181c"/>
<path d="M2182.4 479q0-3 3-3h602.500q3 0 3 3v79h-608.500z" fill="url(#m3body)"/>
<path d="M2182.4 558h608.500v79.500q0 3-3 3h-602.500q-3 0-3-3z" fill="url(#m3body2)"/>
<rect x="2182.4" y="476" width="608.500" height="82" fill="url(#m3bodyv)"/>
<rect x="2290" y="558.500" width="500.900" height="62" fill="url(#m3shv)" mask="url(#m3mask1)"/>
<rect x="2600" y="558.500" width="190.900" height="82" fill="url(#m3shv2)" mask="url(#m3mask2)"/>
<rect x="2182.4" y="557.500" width="608.500" height="1.200" fill="#5d6786" opacity="0.9"/>

<rect x="2215" y="639" width="544" height="2.400" fill="#8fc4e6"/>
<g stroke="#3a4258" stroke-width="1" fill="#3a4258"><path d="M2222.500 492.500l8 8.500M2230.500 492.500l-8 8.500" fill="none"/><circle cx="2222.500" cy="492.500" r="1.300"/><circle cx="2230.500" cy="492.500" r="1.300"/><circle cx="2222.500" cy="501" r="1.300"/><circle cx="2230.500" cy="501" r="1.300"/><circle cx="2226.500" cy="491.300" r="1"/><circle cx="2226.500" cy="502.200" r="1"/><circle cx="2221.200" cy="496.800" r="1"/><circle cx="2231.800" cy="496.800" r="1"/></g>
<text x="2235.500" y="499.600" textLength="35.500" lengthAdjust="spacingAndGlyphs" font-size="6.400" fill="#3f475c" stroke="#3f475c" stroke-width="0.200">HALOS</text>
<g fill="#f1f4fa"><rect x="2687.0" y="496.5" width="1.300" height="1.0" rx="0.600"/><rect x="2689.4" y="496.5" width="1.300" height="1.0" rx="0.600"/><rect x="2691.8" y="496.2" width="1.300" height="1.6" rx="0.600"/><rect x="2694.3" y="495.7" width="1.300" height="2.6" rx="0.600"/><rect x="2696.7" y="495.0" width="1.300" height="4.0" rx="0.600"/><rect x="2699.1" y="495.7" width="1.300" height="2.6" rx="0.600"/><rect x="2701.5" y="496.2" width="1.300" height="1.6" rx="0.600"/><rect x="2703.9" y="496.5" width="1.300" height="1.0" rx="0.600"/><rect x="2706.4" y="496.5" width="1.300" height="1.0" rx="0.600"/><rect x="2708.8" y="496.5" width="1.300" height="1.0" rx="0.600"/><rect x="2711.2" y="496.3" width="1.300" height="1.4" rx="0.600"/><rect x="2713.6" y="495.8" width="1.300" height="2.4" rx="0.600"/><rect x="2716.0" y="495.2" width="1.300" height="3.6" rx="0.600"/><rect x="2718.5" y="494.5" width="1.300" height="5.0" rx="0.600"/><rect x="2720.9" y="495.2" width="1.300" height="3.6" rx="0.600"/><rect x="2723.3" y="495.9" width="1.300" height="2.2" rx="0.600"/><rect x="2725.7" y="496.4" width="1.300" height="1.2" rx="0.600"/><rect x="2728.1" y="496.5" width="1.300" height="1.0" rx="0.600"/><rect x="2730.6" y="496.5" width="1.300" height="1.0" rx="0.600"/><rect x="2733.0" y="496.5" width="1.300" height="1.0" rx="0.600"/><rect x="2735.4" y="496.2" width="1.300" height="1.6" rx="0.600"/><rect x="2737.8" y="495.5" width="1.300" height="3.0" rx="0.600"/><rect x="2740.2" y="494.8" width="1.300" height="4.4" rx="0.600"/><rect x="2742.7" y="495.5" width="1.300" height="3.0" rx="0.600"/><rect x="2745.1" y="496.0" width="1.300" height="2.0" rx="0.600"/><rect x="2747.5" y="496.4" width="1.300" height="1.2" rx="0.600"/><rect x="2749.9" y="496.5" width="1.300" height="1.0" rx="0.600"/><rect x="2752.3" y="496.5" width="1.300" height="1.0" rx="0.600"/></g>
<rect x="2300" y="470" width="375" height="86" rx="10" fill="#1e2434" opacity="0.55" filter="url(#m3b2)"/>
<rect x="2307" y="334" width="360.400" height="216" rx="10" fill="#5b5f67"/>
<rect x="2308.200" y="335.200" width="358" height="213.600" rx="9" fill="none" stroke="#6d7179" stroke-width="1"/>
<rect x="2315.400" y="343.200" width="343.900" height="198" fill="url(#m3scr)"/>
<g clip-path="url(#m3scrclip)">
<rect x="2315.400" y="343.200" width="343.900" height="198" fill="url(#m3scrhl)"/>
<rect x="2315.400" y="343.200" width="343.900" height="198" fill="url(#m3scrb)"/>
<polygon points="2346.7,399.0 2329.8,408.8 2329.8,428.2 2346.7,438.0 2363.6,428.2 2363.6,408.8" fill="#dff4f8" fill-opacity="0.26" stroke="#e6f6fa" stroke-opacity="0.35" stroke-width="0.700"/>
<polygon points="2364.4,365.5 2347.5,375.2 2347.5,394.8 2364.4,404.5 2381.3,394.8 2381.3,375.2" fill="#dff4f8" fill-opacity="0.12"/>
<polygon points="2380.0,459.4 2363.9,468.7 2363.9,487.3 2380.0,496.6 2396.1,487.3 2396.1,468.7" fill="#dff4f8" fill-opacity="0.24" stroke="#e6f6fa" stroke-opacity="0.35" stroke-width="0.700"/>
<polygon points="2363.4,491.0 2347.3,500.3 2347.3,518.9 2363.4,528.2 2379.5,518.9 2379.5,500.3" fill="#dff4f8" fill-opacity="0.2" stroke="#e6f6fa" stroke-opacity="0.35" stroke-width="0.700"/>
<polygon points="2404.0,417.5 2394.0,423.2 2394.0,434.8 2404.0,440.5 2414.0,434.8 2414.0,423.2" fill="#dff4f8" fill-opacity="0.14"/>
<polygon points="2392.2,436.2 2382.2,441.9 2382.2,453.4 2392.2,459.2 2402.2,453.4 2402.2,441.9" fill="#dff4f8" fill-opacity="0.12"/>
<polygon points="2414.0,474.3 2404.0,480.1 2404.0,491.6 2414.0,497.3 2424.0,491.6 2424.0,480.1" fill="#dff4f8" fill-opacity="0.1" stroke="#e6f6fa" stroke-opacity="0.35" stroke-width="0.700"/>
<polygon points="2403.0,491.9 2393.0,497.6 2393.0,509.1 2403.0,514.9 2413.0,509.1 2413.0,497.6" fill="#dff4f8" fill-opacity="0.1" stroke="#e6f6fa" stroke-opacity="0.35" stroke-width="0.700"/>
<polygon points="2345.8,459.6 2329.3,469.1 2329.3,488.1 2345.8,497.6 2362.3,488.1 2362.3,469.1" fill="#dff4f8" fill-opacity="0.08"/>
<polygon points="2414.0,436.2 2404.0,441.9 2404.0,453.4 2414.0,459.2 2424.0,453.4 2424.0,441.9" fill="#dff4f8" fill-opacity="0.08"/>
<path d="M2343.500 410c6 3 6 6 0 9c6 3 6 6 0 9M2349.500 410c-6 3-6 6 0 9c-6 3-6 6 0 9" stroke="#f2fbfd" stroke-width="1.200" fill="none" opacity="0.9"/>
<g transform="translate(-16 -6)" stroke="#f2fbfd" stroke-width="1.100" fill="none" opacity="0.92"><circle cx="2396" cy="484" r="3.200"/><circle cx="2390.500" cy="478.500" r="1.700"/><circle cx="2402" cy="479" r="1.700"/><circle cx="2397" cy="492" r="1.700"/><path d="M2393.700 481.700l-2-2M2398.500 482l2.400-2M2396.500 487.200v3.200"/></g>
<g transform="translate(0.500 -9.500)"><path d="M2358 527l8.500-12.500" stroke="#f2fbfd" stroke-width="2.400" stroke-linecap="round" opacity="0.92"/><path d="M2365.500 515.500l2-3" stroke="#f2fbfd" stroke-width="1.200" stroke-linecap="round"/></g>
<ellipse cx="2572.2" cy="343.1" rx="31.7" ry="31.0" fill="#14306e" opacity="0.4" filter="url(#m3b2)"/><circle cx="2569" cy="338.6" r="32" fill="url(#m3bub)"/><circle cx="2569" cy="338.6" r="32" fill="url(#m3rim)"/><path d="M2597.7 346.3A29.8 29.8 0 0 1 2554.1 364.4" stroke="#ffffff" stroke-opacity="0.55" stroke-width="2.9" stroke-linecap="round" fill="none" filter="url(#m3b2)"/><path d="M2543.5 326.7A28.2 28.2 0 0 1 2559.4 312.1" stroke="#ffffff" stroke-opacity="0.7" stroke-width="1.4" stroke-linecap="round" fill="none"/>
<ellipse cx="2384.9" cy="571.7" rx="42.3" ry="41.4" fill="#14306e" opacity="0.4" filter="url(#m3b2)"/><circle cx="2380.6" cy="565.7" r="42.7" fill="url(#m3bub)"/><circle cx="2380.6" cy="565.7" r="42.7" fill="url(#m3rim)"/><path d="M2419.0 576.0A39.7 39.7 0 0 1 2360.7 600.1" stroke="#ffffff" stroke-opacity="0.55" stroke-width="3.8" stroke-linecap="round" fill="none" filter="url(#m3b2)"/><path d="M2346.5 549.8A37.6 37.6 0 0 1 2367.7 530.4" stroke="#ffffff" stroke-opacity="0.7" stroke-width="1.9" stroke-linecap="round" fill="none"/>
<ellipse cx="2497.4" cy="445.2" rx="74.7" ry="73.2" fill="#14306e" opacity="0.4" filter="url(#m3b2)"/><circle cx="2489.8" cy="434.6" r="75.5" fill="url(#m3bub)"/><circle cx="2489.8" cy="434.6" r="75.5" fill="url(#m3rim)"/><path d="M2557.6 452.8A70.2 70.2 0 0 1 2454.7 495.4" stroke="#ffffff" stroke-opacity="0.55" stroke-width="6.8" stroke-linecap="round" fill="none" filter="url(#m3b2)"/><path d="M2429.6 406.5A66.4 66.4 0 0 1 2467.1 372.2" stroke="#ffffff" stroke-opacity="0.7" stroke-width="3.4" stroke-linecap="round" fill="none"/><g transform="translate(2431.0 466.0) rotate(-32.7)"><path d="M0.0 0.0L1.4 1.1L2.8 2.2L4.2 3.2L5.6 4.1L7.0 4.8L8.4 5.2L9.8 5.4L11.3 5.3L12.7 5.0L14.1 4.3L15.5 3.5L16.9 2.5L18.3 1.3L19.7 0.0L21.1 -1.3L22.5 -2.6L23.9 -3.7L25.3 -4.7L26.7 -5.5L28.1 -6.0L29.5 -6.2L30.9 -6.1L32.4 -5.7L33.8 -5.0L35.2 -4.0L36.6 -2.8L38.0 -1.4L39.4 -0.0L40.8 1.5L42.2 2.9L43.6 4.2L45.0 5.3L46.4 6.2L47.8 6.7L49.2 7.0L50.6 6.8L52.1 6.4L53.5 5.6L54.9 4.5L56.3 3.1L57.7 1.6L59.1 0.0L60.5 -1.6L61.9 -3.2L63.3 -4.7L64.7 -5.9L66.1 -6.9L67.5 -7.5L68.9 -7.8L70.3 -7.6L71.7 -7.1L73.2 -6.2L74.6 -5.0L76.0 -3.5L77.4 -1.8L78.8 -0.0L80.2 1.8L81.6 3.6L83.0 5.2L84.4 6.5L85.8 7.6L87.2 8.3L88.6 8.5L90.0 8.4L91.4 7.8L92.8 6.8L94.3 5.5L95.7 3.8L97.1 2.0L98.5 0.0L99.9 -2.0L101.3 -3.9L102.7 -5.7L104.1 -7.2L105.5 -8.3L106.9 -9.0L108.3 -9.3L109.7 -9.1L111.1 -8.5L112.5 -7.4L113.9 -6.0L115.4 -4.2L116.8 -2.1L118.2 -0.0L119.6 2.2L121.0 4.3L122.4 6.2L123.8 7.8L125.2 9.0L126.6 9.8L128.0 10.1L129.4 9.9L130.8 9.2L132.2 8.0L133.6 6.4L135.0 4.5L136.5 2.3L137.9 0.0" stroke="#123a86" stroke-width="2.4" opacity="0.25" fill="none" transform="translate(1.5 3)"/><path d="M2.8 2.2L2.8 -2.2M7.0 4.8L7.0 -4.8M11.3 5.3L11.3 -5.3M15.5 3.5L15.5 -3.5M19.7 0.0L19.7 -0.0M23.9 -3.7L23.9 3.7M28.1 -6.0L28.1 6.0M32.4 -5.7L32.4 5.7M36.6 -2.8L36.6 2.8M40.8 1.5L40.8 -1.5M45.0 5.3L45.0 -5.3M49.2 7.0L49.2 -7.0M53.5 5.6L53.5 -5.6M57.7 1.6L57.7 -1.6M61.9 -3.2L61.9 3.2M66.1 -6.9L66.1 6.9M70.3 -7.6L70.3 7.6M74.6 -5.0L74.6 5.0M78.8 -0.0L78.8 0.0M83.0 5.2L83.0 -5.2M87.2 8.3L87.2 -8.3M91.4 7.8L91.4 -7.8M95.7 3.8L95.7 -3.8M99.9 -2.0L99.9 2.0M104.1 -7.2L104.1 7.2M108.3 -9.3L108.3 9.3M112.5 -7.4L112.5 7.4M116.8 -2.1L116.8 2.1M121.0 4.3L121.0 -4.3M125.2 9.0L125.2 -9.0M129.4 9.9L129.4 -9.9M133.6 6.4L133.6 -6.4" stroke="#cdeff6" stroke-width="0.500" opacity="0.85" fill="none"/><path d="M0.0 0.0L1.4 1.1L2.8 2.2L4.2 3.2L5.6 4.1L7.0 4.8L8.4 5.2L9.8 5.4L11.3 5.3L12.7 5.0L14.1 4.3L15.5 3.5L16.9 2.5L18.3 1.3L19.7 0.0L21.1 -1.3L22.5 -2.6L23.9 -3.7L25.3 -4.7L26.7 -5.5L28.1 -6.0L29.5 -6.2L30.9 -6.1L32.4 -5.7L33.8 -5.0L35.2 -4.0L36.6 -2.8L38.0 -1.4L39.4 -0.0L40.8 1.5L42.2 2.9L43.6 4.2L45.0 5.3L46.4 6.2L47.8 6.7L49.2 7.0L50.6 6.8L52.1 6.4L53.5 5.6L54.9 4.5L56.3 3.1L57.7 1.6L59.1 0.0L60.5 -1.6L61.9 -3.2L63.3 -4.7L64.7 -5.9L66.1 -6.9L67.5 -7.5L68.9 -7.8L70.3 -7.6L71.7 -7.1L73.2 -6.2L74.6 -5.0L76.0 -3.5L77.4 -1.8L78.8 -0.0L80.2 1.8L81.6 3.6L83.0 5.2L84.4 6.5L85.8 7.6L87.2 8.3L88.6 8.5L90.0 8.4L91.4 7.8L92.8 6.8L94.3 5.5L95.7 3.8L97.1 2.0L98.5 0.0L99.9 -2.0L101.3 -3.9L102.7 -5.7L104.1 -7.2L105.5 -8.3L106.9 -9.0L108.3 -9.3L109.7 -9.1L111.1 -8.5L112.5 -7.4L113.9 -6.0L115.4 -4.2L116.8 -2.1L118.2 -0.0L119.6 2.2L121.0 4.3L122.4 6.2L123.8 7.8L125.2 9.0L126.6 9.8L128.0 10.1L129.4 9.9L130.8 9.2L132.2 8.0L133.6 6.4L135.0 4.5L136.5 2.3L137.9 0.0" stroke="#2fa7c6" stroke-width="1.5" fill="none"/><path d="M0.0 -0.0L1.4 -1.1L2.8 -2.2L4.2 -3.2L5.6 -4.1L7.0 -4.8L8.4 -5.2L9.8 -5.4L11.3 -5.3L12.7 -5.0L14.1 -4.3L15.5 -3.5L16.9 -2.5L18.3 -1.3L19.7 -0.0L21.1 1.3L22.5 2.6L23.9 3.7L25.3 4.7L26.7 5.5L28.1 6.0L29.5 6.2L30.9 6.1L32.4 5.7L33.8 5.0L35.2 4.0L36.6 2.8L38.0 1.4L39.4 0.0L40.8 -1.5L42.2 -2.9L43.6 -4.2L45.0 -5.3L46.4 -6.2L47.8 -6.7L49.2 -7.0L50.6 -6.8L52.1 -6.4L53.5 -5.6L54.9 -4.5L56.3 -3.1L57.7 -1.6L59.1 -0.0L60.5 1.6L61.9 3.2L63.3 4.7L64.7 5.9L66.1 6.9L67.5 7.5L68.9 7.8L70.3 7.6L71.7 7.1L73.2 6.2L74.6 5.0L76.0 3.5L77.4 1.8L78.8 0.0L80.2 -1.8L81.6 -3.6L83.0 -5.2L84.4 -6.5L85.8 -7.6L87.2 -8.3L88.6 -8.5L90.0 -8.4L91.4 -7.8L92.8 -6.8L94.3 -5.5L95.7 -3.8L97.1 -2.0L98.5 -0.0L99.9 2.0L101.3 3.9L102.7 5.7L104.1 7.2L105.5 8.3L106.9 9.0L108.3 9.3L109.7 9.1L111.1 8.5L112.5 7.4L113.9 6.0L115.4 4.2L116.8 2.1L118.2 0.0L119.6 -2.2L121.0 -4.3L122.4 -6.2L123.8 -7.8L125.2 -9.0L126.6 -9.8L128.0 -10.1L129.4 -9.9L130.8 -9.2L132.2 -8.0L133.6 -6.4L135.0 -4.5L136.5 -2.3L137.9 -0.0" stroke="#e9f9fc" stroke-width="1.5" fill="none"/></g>
<ellipse cx="2612.6" cy="421.9" rx="18.8" ry="18.4" fill="#14306e" opacity="0.4" filter="url(#m3b2)"/><circle cx="2610.7" cy="419.2" r="19" fill="url(#m3bub)"/><circle cx="2610.7" cy="419.2" r="19" fill="url(#m3rim)"/><path d="M2627.8 423.8A17.7 17.7 0 0 1 2601.9 434.5" stroke="#ffffff" stroke-opacity="0.55" stroke-width="1.7" stroke-linecap="round" fill="none" filter="url(#m3b2)"/><path d="M2595.5 412.1A16.7 16.7 0 0 1 2605.0 403.5" stroke="#ffffff" stroke-opacity="0.7" stroke-width="1.0" stroke-linecap="round" fill="none"/><g transform="translate(2596.0 425.0) rotate(-24.9)"><path d="M0.0 0.0L0.4 0.4L0.7 0.7L1.1 1.0L1.5 1.3L1.8 1.5L2.2 1.7L2.6 1.7L2.9 1.7L3.3 1.6L3.7 1.4L4.0 1.1L4.4 0.8L4.8 0.4L5.1 0.0L5.5 -0.4L5.9 -0.8L6.2 -1.2L6.6 -1.5L7.0 -1.7L7.4 -1.9L7.7 -2.0L8.1 -1.9L8.5 -1.8L8.8 -1.6L9.2 -1.3L9.6 -0.9L9.9 -0.5L10.3 -0.0L10.7 0.5L11.0 0.9L11.4 1.3L11.8 1.7L12.1 1.9L12.5 2.1L12.9 2.2L13.2 2.1L13.6 2.0L14.0 1.7L14.3 1.4L14.7 1.0L15.1 0.5L15.4 0.0L15.8 -0.5L16.2 -1.0L16.5 -1.5L16.9 -1.9L17.3 -2.1L17.6 -2.3L18.0 -2.4L18.4 -2.4L18.7 -2.2L19.1 -1.9L19.5 -1.5L19.8 -1.1L20.2 -0.6L20.6 -0.0L20.9 0.6L21.3 1.1L21.7 1.6L22.1 2.0L22.4 2.4L22.8 2.6L23.2 2.6L23.5 2.6L23.9 2.4L24.3 2.1L24.6 1.7L25.0 1.2L25.4 0.6L25.7 0.0L26.1 -0.6L26.5 -1.2L26.8 -1.8L27.2 -2.2L27.6 -2.6L27.9 -2.8L28.3 -2.9L28.7 -2.8L29.0 -2.6L29.4 -2.3L29.8 -1.8L30.1 -1.3L30.5 -0.7L30.9 -0.0" stroke="#123a86" stroke-width="1.3" opacity="0.25" fill="none" transform="translate(1.5 3)"/><path d="M0.7 0.7L0.7 -0.7M1.8 1.5L1.8 -1.5M2.9 1.7L2.9 -1.7M4.0 1.1L4.0 -1.1M5.1 0.0L5.1 -0.0M6.2 -1.2L6.2 1.2M7.4 -1.9L7.4 1.9M8.5 -1.8L8.5 1.8M9.6 -0.9L9.6 0.9M10.7 0.5L10.7 -0.5M11.8 1.7L11.8 -1.7M12.9 2.2L12.9 -2.2M14.0 1.7L14.0 -1.7M15.1 0.5L15.1 -0.5M16.2 -1.0L16.2 1.0M17.3 -2.1L17.3 2.1M18.4 -2.4L18.4 2.4M19.5 -1.5L19.5 1.5M20.6 -0.0L20.6 0.0M21.7 1.6L21.7 -1.6M22.8 2.6L22.8 -2.6M23.9 2.4L23.9 -2.4M25.0 1.2L25.0 -1.2M26.1 -0.6L26.1 0.6M27.2 -2.2L27.2 2.2M28.3 -2.9L28.3 2.9M29.4 -2.3L29.4 2.3M30.5 -0.7L30.5 0.7" stroke="#cdeff6" stroke-width="0.500" opacity="0.85" fill="none"/><path d="M0.0 0.0L0.4 0.4L0.7 0.7L1.1 1.0L1.5 1.3L1.8 1.5L2.2 1.7L2.6 1.7L2.9 1.7L3.3 1.6L3.7 1.4L4.0 1.1L4.4 0.8L4.8 0.4L5.1 0.0L5.5 -0.4L5.9 -0.8L6.2 -1.2L6.6 -1.5L7.0 -1.7L7.4 -1.9L7.7 -2.0L8.1 -1.9L8.5 -1.8L8.8 -1.6L9.2 -1.3L9.6 -0.9L9.9 -0.5L10.3 -0.0L10.7 0.5L11.0 0.9L11.4 1.3L11.8 1.7L12.1 1.9L12.5 2.1L12.9 2.2L13.2 2.1L13.6 2.0L14.0 1.7L14.3 1.4L14.7 1.0L15.1 0.5L15.4 0.0L15.8 -0.5L16.2 -1.0L16.5 -1.5L16.9 -1.9L17.3 -2.1L17.6 -2.3L18.0 -2.4L18.4 -2.4L18.7 -2.2L19.1 -1.9L19.5 -1.5L19.8 -1.1L20.2 -0.6L20.6 -0.0L20.9 0.6L21.3 1.1L21.7 1.6L22.1 2.0L22.4 2.4L22.8 2.6L23.2 2.6L23.5 2.6L23.9 2.4L24.3 2.1L24.6 1.7L25.0 1.2L25.4 0.6L25.7 0.0L26.1 -0.6L26.5 -1.2L26.8 -1.8L27.2 -2.2L27.6 -2.6L27.9 -2.8L28.3 -2.9L28.7 -2.8L29.0 -2.6L29.4 -2.3L29.8 -1.8L30.1 -1.3L30.5 -0.7L30.9 -0.0" stroke="#2fa7c6" stroke-width="0.8" fill="none"/><path d="M0.0 -0.0L0.4 -0.4L0.7 -0.7L1.1 -1.0L1.5 -1.3L1.8 -1.5L2.2 -1.7L2.6 -1.7L2.9 -1.7L3.3 -1.6L3.7 -1.4L4.0 -1.1L4.4 -0.8L4.8 -0.4L5.1 -0.0L5.5 0.4L5.9 0.8L6.2 1.2L6.6 1.5L7.0 1.7L7.4 1.9L7.7 2.0L8.1 1.9L8.5 1.8L8.8 1.6L9.2 1.3L9.6 0.9L9.9 0.5L10.3 0.0L10.7 -0.5L11.0 -0.9L11.4 -1.3L11.8 -1.7L12.1 -1.9L12.5 -2.1L12.9 -2.2L13.2 -2.1L13.6 -2.0L14.0 -1.7L14.3 -1.4L14.7 -1.0L15.1 -0.5L15.4 -0.0L15.8 0.5L16.2 1.0L16.5 1.5L16.9 1.9L17.3 2.1L17.6 2.3L18.0 2.4L18.4 2.4L18.7 2.2L19.1 1.9L19.5 1.5L19.8 1.1L20.2 0.6L20.6 0.0L20.9 -0.6L21.3 -1.1L21.7 -1.6L22.1 -2.0L22.4 -2.4L22.8 -2.6L23.2 -2.6L23.5 -2.6L23.9 -2.4L24.3 -2.1L24.6 -1.7L25.0 -1.2L25.4 -0.6L25.7 -0.0L26.1 0.6L26.5 1.2L26.8 1.8L27.2 2.2L27.6 2.6L27.9 2.8L28.3 2.9L28.7 2.8L29.0 2.6L29.4 2.3L29.8 1.8L30.1 1.3L30.5 0.7L30.9 0.0" stroke="#e9f9fc" stroke-width="0.8" fill="none"/></g>
<ellipse cx="2653.1" cy="515.1" rx="50.5" ry="49.5" fill="#14306e" opacity="0.4" filter="url(#m3b2)"/><circle cx="2648" cy="508" r="51" fill="url(#m3bub)"/><circle cx="2648" cy="508" r="51" fill="url(#m3rim)"/><path d="M2693.8 520.3A47.4 47.4 0 0 1 2624.3 549.1" stroke="#ffffff" stroke-opacity="0.55" stroke-width="4.6" stroke-linecap="round" fill="none" filter="url(#m3b2)"/><path d="M2607.3 489.0A44.9 44.9 0 0 1 2632.7 465.8" stroke="#ffffff" stroke-opacity="0.7" stroke-width="2.3" stroke-linecap="round" fill="none"/><g transform="translate(2606.0 531.0) rotate(-34.7)"><path d="M0.0 0.0L0.8 0.9L1.5 1.8L2.3 2.6L3.1 3.3L3.8 3.8L4.6 4.1L5.4 4.3L6.2 4.2L6.9 3.9L7.7 3.4L8.5 2.8L9.2 1.9L10.0 1.0L10.8 0.0L11.5 -1.0L12.3 -2.0L13.1 -2.9L13.9 -3.7L14.6 -4.3L15.4 -4.7L16.2 -4.9L16.9 -4.8L17.7 -4.4L18.5 -3.9L19.2 -3.1L20.0 -2.2L20.8 -1.1L21.6 -0.0L22.3 1.2L23.1 2.3L23.9 3.3L24.6 4.1L25.4 4.8L26.2 5.3L26.9 5.4L27.7 5.3L28.5 5.0L29.3 4.3L30.0 3.5L30.8 2.4L31.6 1.3L32.3 0.0L33.1 -1.3L33.9 -2.5L34.6 -3.6L35.4 -4.6L36.2 -5.3L37.0 -5.8L37.7 -6.0L38.5 -5.9L39.3 -5.5L40.0 -4.8L40.8 -3.8L41.6 -2.7L42.3 -1.4L43.1 -0.0L43.9 1.4L44.7 2.8L45.4 4.0L46.2 5.0L47.0 5.8L47.7 6.4L48.5 6.6L49.3 6.4L50.0 6.0L50.8 5.2L51.6 4.2L52.4 2.9L53.1 1.5L53.9 0.0L54.7 -1.5L55.4 -3.0L56.2 -4.4L57.0 -5.5L57.7 -6.4L58.5 -6.9L59.3 -7.1L60.1 -7.0L60.8 -6.5L61.6 -5.7L62.4 -4.6L63.1 -3.2L63.9 -1.6L64.7 -0.0L65.4 1.7L66.2 3.3L67.0 4.7L67.8 5.9L68.5 6.9L69.3 7.5L70.1 7.7L70.8 7.6L71.6 7.0L72.4 6.1L73.1 4.9L73.9 3.4L74.7 1.8L75.5 0.0" stroke="#123a86" stroke-width="2.1" opacity="0.25" fill="none" transform="translate(1.5 3)"/><path d="M1.5 1.8L1.5 -1.8M3.8 3.8L3.8 -3.8M6.2 4.2L6.2 -4.2M8.5 2.8L8.5 -2.8M10.8 0.0L10.8 -0.0M13.1 -2.9L13.1 2.9M15.4 -4.7L15.4 4.7M17.7 -4.4L17.7 4.4M20.0 -2.2L20.0 2.2M22.3 1.2L22.3 -1.2M24.6 4.1L24.6 -4.1M26.9 5.4L26.9 -5.4M29.3 4.3L29.3 -4.3M31.6 1.3L31.6 -1.3M33.9 -2.5L33.9 2.5M36.2 -5.3L36.2 5.3M38.5 -5.9L38.5 5.9M40.8 -3.8L40.8 3.8M43.1 -0.0L43.1 0.0M45.4 4.0L45.4 -4.0M47.7 6.4L47.7 -6.4M50.0 6.0L50.0 -6.0M52.4 2.9L52.4 -2.9M54.7 -1.5L54.7 1.5M57.0 -5.5L57.0 5.5M59.3 -7.1L59.3 7.1M61.6 -5.7L61.6 5.7M63.9 -1.6L63.9 1.6M66.2 3.3L66.2 -3.3M68.5 6.9L68.5 -6.9M70.8 7.6L70.8 -7.6M73.1 4.9L73.1 -4.9" stroke="#cdeff6" stroke-width="0.500" opacity="0.85" fill="none"/><path d="M0.0 0.0L0.8 0.9L1.5 1.8L2.3 2.6L3.1 3.3L3.8 3.8L4.6 4.1L5.4 4.3L6.2 4.2L6.9 3.9L7.7 3.4L8.5 2.8L9.2 1.9L10.0 1.0L10.8 0.0L11.5 -1.0L12.3 -2.0L13.1 -2.9L13.9 -3.7L14.6 -4.3L15.4 -4.7L16.2 -4.9L16.9 -4.8L17.7 -4.4L18.5 -3.9L19.2 -3.1L20.0 -2.2L20.8 -1.1L21.6 -0.0L22.3 1.2L23.1 2.3L23.9 3.3L24.6 4.1L25.4 4.8L26.2 5.3L26.9 5.4L27.7 5.3L28.5 5.0L29.3 4.3L30.0 3.5L30.8 2.4L31.6 1.3L32.3 0.0L33.1 -1.3L33.9 -2.5L34.6 -3.6L35.4 -4.6L36.2 -5.3L37.0 -5.8L37.7 -6.0L38.5 -5.9L39.3 -5.5L40.0 -4.8L40.8 -3.8L41.6 -2.7L42.3 -1.4L43.1 -0.0L43.9 1.4L44.7 2.8L45.4 4.0L46.2 5.0L47.0 5.8L47.7 6.4L48.5 6.6L49.3 6.4L50.0 6.0L50.8 5.2L51.6 4.2L52.4 2.9L53.1 1.5L53.9 0.0L54.7 -1.5L55.4 -3.0L56.2 -4.4L57.0 -5.5L57.7 -6.4L58.5 -6.9L59.3 -7.1L60.1 -7.0L60.8 -6.5L61.6 -5.7L62.4 -4.6L63.1 -3.2L63.9 -1.6L64.7 -0.0L65.4 1.7L66.2 3.3L67.0 4.7L67.8 5.9L68.5 6.9L69.3 7.5L70.1 7.7L70.8 7.6L71.6 7.0L72.4 6.1L73.1 4.9L73.9 3.4L74.7 1.8L75.5 0.0" stroke="#2fa7c6" stroke-width="1.3" fill="none"/><path d="M0.0 -0.0L0.8 -0.9L1.5 -1.8L2.3 -2.6L3.1 -3.3L3.8 -3.8L4.6 -4.1L5.4 -4.3L6.2 -4.2L6.9 -3.9L7.7 -3.4L8.5 -2.8L9.2 -1.9L10.0 -1.0L10.8 -0.0L11.5 1.0L12.3 2.0L13.1 2.9L13.9 3.7L14.6 4.3L15.4 4.7L16.2 4.9L16.9 4.8L17.7 4.4L18.5 3.9L19.2 3.1L20.0 2.2L20.8 1.1L21.6 0.0L22.3 -1.2L23.1 -2.3L23.9 -3.3L24.6 -4.1L25.4 -4.8L26.2 -5.3L26.9 -5.4L27.7 -5.3L28.5 -5.0L29.3 -4.3L30.0 -3.5L30.8 -2.4L31.6 -1.3L32.3 -0.0L33.1 1.3L33.9 2.5L34.6 3.6L35.4 4.6L36.2 5.3L37.0 5.8L37.7 6.0L38.5 5.9L39.3 5.5L40.0 4.8L40.8 3.8L41.6 2.7L42.3 1.4L43.1 0.0L43.9 -1.4L44.7 -2.8L45.4 -4.0L46.2 -5.0L47.0 -5.8L47.7 -6.4L48.5 -6.6L49.3 -6.4L50.0 -6.0L50.8 -5.2L51.6 -4.2L52.4 -2.9L53.1 -1.5L53.9 -0.0L54.7 1.5L55.4 3.0L56.2 4.4L57.0 5.5L57.7 6.4L58.5 6.9L59.3 7.1L60.1 7.0L60.8 6.5L61.6 5.7L62.4 4.6L63.1 3.2L63.9 1.6L64.7 0.0L65.4 -1.7L66.2 -3.3L67.0 -4.7L67.8 -5.9L68.5 -6.9L69.3 -7.5L70.1 -7.7L70.8 -7.6L71.6 -7.0L72.4 -6.1L73.1 -4.9L73.9 -3.4L74.7 -1.8L75.5 -0.0" stroke="#e9f9fc" stroke-width="1.3" fill="none"/></g>
<g fill="#ffffff" opacity="0.8"><circle cx="2440.5" cy="449.8" r="1.4"/><circle cx="2428.9" cy="453.6" r="0.8"/><circle cx="2509.5" cy="479.9" r="0.8"/><circle cx="2521.4" cy="455.8" r="0.6"/><circle cx="2426.6" cy="418.9" r="0.6"/><circle cx="2453.9" cy="410.1" r="1.4"/><circle cx="2459.1" cy="390.0" r="0.8"/><circle cx="2444.8" cy="390.6" r="0.6"/><circle cx="2517.8" cy="445.6" r="0.8"/><circle cx="2440.5" cy="398.9" r="1.0"/><circle cx="2430.8" cy="457.7" r="0.8"/><circle cx="2458.8" cy="397.0" r="0.6"/><circle cx="2454.7" cy="444.2" r="0.6"/><circle cx="2479.6" cy="397.2" r="0.8"/><circle cx="2477.9" cy="433.6" r="0.6"/><circle cx="2438.3" cy="471.8" r="1.4"/><circle cx="2498.0" cy="438.3" r="0.6"/><circle cx="2504.9" cy="499.3" r="0.6"/><circle cx="2422.7" cy="447.4" r="1.4"/><circle cx="2444.3" cy="459.7" r="0.8"/><circle cx="2496.2" cy="399.3" r="0.6"/><circle cx="2486.6" cy="442.5" r="1.4"/><circle cx="2491.0" cy="410.9" r="0.8"/><circle cx="2487.9" cy="427.6" r="1.4"/><circle cx="2498.3" cy="406.8" r="0.8"/><circle cx="2461.3" cy="444.4" r="0.8"/><circle cx="2452.4" cy="455.4" r="1.4"/><circle cx="2461.8" cy="449.8" r="1.0"/><circle cx="2534.6" cy="383.3" r="1.0"/><circle cx="2499.5" cy="434.5" r="0.8"/><circle cx="2439.6" cy="473.9" r="0.6"/><circle cx="2515.3" cy="441.5" r="1.4"/><circle cx="2486.6" cy="495.2" r="1.0"/><circle cx="2510.5" cy="397.1" r="0.6"/><circle cx="2534.3" cy="462.9" r="0.8"/><circle cx="2531.5" cy="438.7" r="1.4"/><circle cx="2526.7" cy="472.5" r="0.8"/><circle cx="2509.5" cy="412.7" r="0.8"/><circle cx="2477.5" cy="465.2" r="0.8"/><circle cx="2485.6" cy="407.5" r="0.8"/><circle cx="2473.2" cy="394.9" r="1.4"/><circle cx="2454.2" cy="407.5" r="0.6"/><circle cx="2528.0" cy="465.9" r="1.0"/><circle cx="2494.0" cy="492.4" r="1.0"/><circle cx="2432.1" cy="465.9" r="1.4"/><circle cx="2482.0" cy="462.4" r="0.6"/><circle cx="2669.8" cy="530.2" r="1.0"/><circle cx="2669.2" cy="479.8" r="0.8"/><circle cx="2658.1" cy="549.8" r="1.0"/><circle cx="2671.2" cy="510.4" r="0.8"/><circle cx="2648.1" cy="517.7" r="0.8"/><circle cx="2624.9" cy="533.0" r="0.6"/><circle cx="2662.0" cy="517.2" r="0.8"/><circle cx="2684.2" cy="503.5" r="1.0"/><circle cx="2604.6" cy="502.0" r="1.0"/><circle cx="2653.9" cy="509.3" r="0.8"/><circle cx="2634.6" cy="465.9" r="0.6"/><circle cx="2638.0" cy="500.9" r="0.6"/><circle cx="2644.9" cy="482.8" r="0.6"/><circle cx="2677.6" cy="523.1" r="1.0"/><circle cx="2689.9" cy="520.0" r="1.0"/><circle cx="2636.5" cy="469.6" r="0.8"/><circle cx="2625.8" cy="537.9" r="0.6"/><circle cx="2668.0" cy="487.0" r="0.6"/></g>
<text x="2618" y="347.600" font-size="2.400" fill="#cfe0f2" opacity="0.8">Genomics data analysis and interpretation</text>
<text x="2618" y="350.600" font-size="2.400" fill="#cfe0f2" opacity="0.8">integrated bioinformatics platform</text>
</g>
</g>
<g id="flow">
<rect x="43.7" y="57.8" width="965.9" height="107.6" rx="53.8" fill="#fff" stroke="#1770c0" stroke-width="3.2"/>
<rect x="1281.3" y="57.8" width="411.9" height="107.6" rx="53.8" fill="#fff" stroke="#1770c0" stroke-width="3.2"/>
<rect x="2048.5" y="57.8" width="341.1" height="107.6" rx="53.8" fill="#fff" stroke="#1770c0" stroke-width="3.2"/>
<rect x="2662" y="57.8" width="281.8" height="107.6" rx="53.8" fill="#fff" stroke="#1770c0" stroke-width="3.2"/>
<rect x="1009.6" y="110.1" width="137.4" height="3.2" fill="#1770c0"/>
<path d="M1151.2 101.1h6.8l10.2 10.7l-10.2 10.7h-6.8l9.9-10.7z" fill="#1770c0"/><path d="M1162.4 101.1h6.8l10.2 10.7l-10.2 10.7h-6.8l9.9-10.7z" fill="#1770c0"/>
<rect x="1183.2" y="110.1" width="98.1" height="3.2" fill="#1770c0"/>
<rect x="1693.2" y="110.1" width="155.5" height="3.2" fill="#1770c0"/>
<path d="M1854.0 101.1h6.8l10.2 10.7l-10.2 10.7h-6.8l9.9-10.7z" fill="#1770c0"/><path d="M1865.2 101.1h6.8l10.2 10.7l-10.2 10.7h-6.8l9.9-10.7z" fill="#1770c0"/>
<rect x="1885.6" y="110.1" width="162.9" height="3.2" fill="#1770c0"/>
<rect x="2389.6" y="110.1" width="117.0" height="3.2" fill="#1770c0"/>
<path d="M2512.2 101.1h6.8l10.2 10.7l-10.2 10.7h-6.8l9.9-10.7z" fill="#1770c0"/><path d="M2523.4 101.1h6.8l10.2 10.7l-10.2 10.7h-6.8l9.9-10.7z" fill="#1770c0"/>
<rect x="2552.5" y="110.1" width="109.5" height="3.2" fill="#1770c0"/>
<circle cx="1009.6" cy="111.7" r="9.4" fill="#fff" stroke="#1770c0" stroke-width="3.2"/>
<circle cx="1693.2" cy="111.7" r="9.4" fill="#fff" stroke="#1770c0" stroke-width="3.2"/>
<circle cx="2389.6" cy="111.7" r="9.4" fill="#fff" stroke="#1770c0" stroke-width="3.2"/>
<circle cx="1281.3" cy="111.7" r="9.4" fill="#fff" stroke="#1770c0" stroke-width="3.2"/>
<circle cx="2048.5" cy="111.7" r="9.4" fill="#fff" stroke="#1770c0" stroke-width="3.2"/>
<circle cx="2662" cy="111.7" r="9.4" fill="#fff" stroke="#1770c0" stroke-width="3.2"/>
<text x="529.0" y="133.7" text-anchor="middle" textLength="876.1" lengthAdjust="spacingAndGlyphs" font-size="61.5" font-weight="bold" fill="#1770c0">Automatic/Manual Processing</text>
<text x="1491.5" y="133.7" text-anchor="middle" textLength="338.0" lengthAdjust="spacingAndGlyphs" font-size="61.5" font-weight="bold" fill="#1770c0">Sequencing</text>
<text x="2222.3" y="133.7" text-anchor="middle" textLength="250.6" lengthAdjust="spacingAndGlyphs" font-size="61.5" font-weight="bold" fill="#1770c0">Analysis</text>
<text x="2802.5" y="133.7" text-anchor="middle" textLength="201.0" lengthAdjust="spacingAndGlyphs" font-size="61.5" font-weight="bold" fill="#1770c0">Report</text>
</g>
<g id="captions">
<text x="484.5" y="846.3" text-anchor="middle" textLength="447.9" lengthAdjust="spacingAndGlyphs" font-size="49" fill="#6c6c6c" stroke="#ffffff" stroke-width="1.2">Automatic extraction</text>
<text x="489.0" y="904" text-anchor="middle" textLength="712.5" lengthAdjust="spacingAndGlyphs" font-size="49" fill="#6c6c6c" stroke="#ffffff" stroke-width="1.2">or library construction equipment</text>
<text x="1462.3" y="883" text-anchor="middle" textLength="229.9" lengthAdjust="spacingAndGlyphs" font-size="49" fill="#6c6c6c" stroke="#ffffff" stroke-width="1.2">Sequencer</text>
<text x="2512.7" y="845.9" text-anchor="middle" textLength="130.0" lengthAdjust="spacingAndGlyphs" font-size="49" fill="#6c6c6c" stroke="#ffffff" stroke-width="1.2">Halos</text>
<text x="2513.3" y="903.6" text-anchor="middle" textLength="1006.0" lengthAdjust="spacingAndGlyphs" font-size="49" fill="#6c6c6c" stroke="#ffffff" stroke-width="1.2">bioinformatics analysis &amp; interpretation system</text>
</g>
</svg>
</body></html>
